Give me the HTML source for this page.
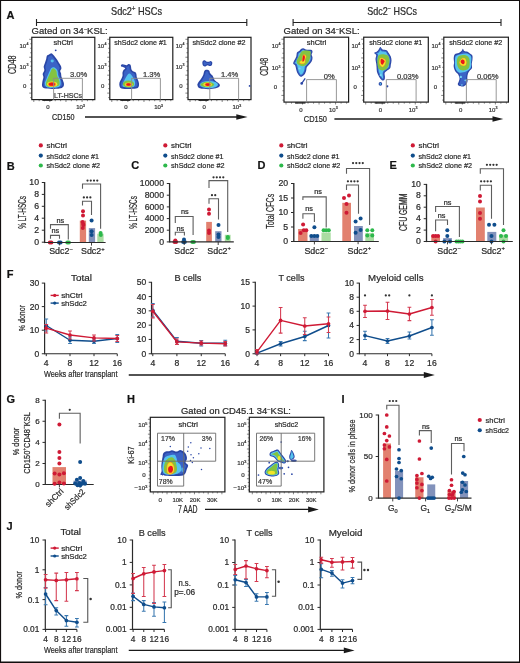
<!DOCTYPE html><html><head><meta charset="utf-8"><style>html,body{margin:0;padding:0;background:#fff;}svg{display:block;will-change:transform;}text{font-family:"Liberation Sans", sans-serif;stroke:#2a2a2a;stroke-width:0.22px;}</style></head><body>
<svg width="520" height="663" viewBox="0 0 520 663">
<defs><filter id="bl" x="-20%" y="-20%" width="140%" height="140%"><feGaussianBlur stdDeviation="0.7"/></filter><filter id="bl2" x="-20%" y="-20%" width="140%" height="140%"><feGaussianBlur stdDeviation="0.4"/></filter></defs>
<rect x="0" y="0" width="520" height="663" fill="#fff"/>
<path d="M0,0H520V663H0Z M1.1,1V661.5H519V1Z" fill="#120e0e" fill-rule="evenodd"/>
<text x="6.60" y="18.80" font-size="11" fill="#111" font-weight="bold" >A</text>
<text x="6.80" y="169.60" font-size="11" fill="#111" font-weight="bold" >B</text>
<text x="131.20" y="169.40" font-size="11" fill="#111" font-weight="bold" >C</text>
<text x="257.40" y="169.00" font-size="11" fill="#111" font-weight="bold" >D</text>
<text x="389.60" y="169.20" font-size="11" fill="#111" font-weight="bold" >E</text>
<text x="6.80" y="278.20" font-size="11" fill="#111" font-weight="bold" >F</text>
<text x="6.60" y="402.60" font-size="11" fill="#111" font-weight="bold" >G</text>
<text x="127.00" y="402.70" font-size="11" fill="#111" font-weight="bold" >H</text>
<text x="341.50" y="402.50" font-size="11" fill="#111" font-weight="bold" >I</text>
<text x="6.60" y="529.50" font-size="11" fill="#111" font-weight="bold" >J</text>
<text x="111.00" y="14.80" font-size="9" fill="#2a2a2a" ></text>
<text x="111.0" y="14.9" font-size="10.4" fill="#2a2a2a" textLength="51" lengthAdjust="spacingAndGlyphs">Sdc2<tspan font-size="6.6" dy="-3.8">+</tspan><tspan dy="3.8"> HSCs</tspan></text>
<text x="367.2" y="14.9" font-size="10.4" fill="#2a2a2a" textLength="49.8" lengthAdjust="spacingAndGlyphs">Sdc2<tspan font-size="6.6" dy="-3.8">−</tspan><tspan dy="3.8"> HSCs</tspan></text>
<path d="M36.5,22.5H246.8M36.5,19V26M246.8,19V26" stroke="#222" stroke-width="1.1" fill="none" />
<path d="M293.1,22.5H501M293.1,19V26M501,19V26" stroke="#222" stroke-width="1.1" fill="none" />
<text x="31.6" y="34.0" font-size="9.5" fill="#2a2a2a">Gated on 34<tspan font-size="5.5" dy="-3.2">−</tspan><tspan dy="3.2">KSL:</tspan></text>
<text x="283.5" y="34.0" font-size="9.5" fill="#2a2a2a">Gated on 34<tspan font-size="5.5" dy="-3.2">−</tspan><tspan dy="3.2">KSL:</tspan></text>
<rect x="31.80" y="37.30" width="63.00" height="62.30" fill="none" stroke="#1e1e1e" stroke-width="1.2" />
<path d="M29.20,39.30H31.80M30.20,43.78H31.80M30.20,48.27H31.80M30.20,52.75H31.80M29.20,57.24H31.80M30.20,61.72H31.80M30.20,66.21H31.80M30.20,70.69H31.80M29.20,75.18H31.80M30.20,79.66H31.80M30.20,84.15H31.80M30.20,88.63H31.80M29.20,93.12H31.80M30.20,97.60H31.80M33.80,99.60V102.00M39.16,99.60V101.20M44.53,99.60V101.20M49.89,99.60V102.00M55.25,99.60V101.20M60.62,99.60V101.20M65.98,99.60V102.00M71.35,99.60V101.20M76.71,99.60V101.20M82.07,99.60V102.00M87.44,99.60V101.20M92.80,99.60V101.20" stroke="#333" stroke-width="0.6" fill="none" />
<text x="26.20" y="47.90" font-size="6" fill="#444" text-anchor="end" >10</text>
<text x="26.40" y="45.40" font-size="3.6" fill="#444" >4</text>
<text x="26.20" y="68.50" font-size="6" fill="#444" text-anchor="end" >10</text>
<text x="26.40" y="66.00" font-size="3.6" fill="#444" >3</text>
<text x="26.40" y="87.70" font-size="6" fill="#444" text-anchor="end" >0</text>
<text x="48.00" y="109.40" font-size="6" fill="#444" text-anchor="middle" >0</text>
<text x="79.60" y="109.40" font-size="6" fill="#444" text-anchor="middle" >10</text>
<text x="83.10" y="106.80" font-size="3.6" fill="#444" >3</text>
<text x="53.50" y="44.90" font-size="7.7" fill="#2a2a2a" textLength="19.50" lengthAdjust="spacingAndGlyphs" >shCtrl</text>
<text x="70.00" y="76.90" font-size="7.6" fill="#444" >3.0%</text>
<rect x="109.80" y="37.30" width="63.00" height="62.30" fill="none" stroke="#1e1e1e" stroke-width="1.2" />
<path d="M107.20,39.30H109.80M108.20,43.78H109.80M108.20,48.27H109.80M108.20,52.75H109.80M107.20,57.24H109.80M108.20,61.72H109.80M108.20,66.21H109.80M108.20,70.69H109.80M107.20,75.18H109.80M108.20,79.66H109.80M108.20,84.15H109.80M108.20,88.63H109.80M107.20,93.12H109.80M108.20,97.60H109.80M111.80,99.60V102.00M117.16,99.60V101.20M122.53,99.60V101.20M127.89,99.60V102.00M133.25,99.60V101.20M138.62,99.60V101.20M143.98,99.60V102.00M149.35,99.60V101.20M154.71,99.60V101.20M160.07,99.60V102.00M165.44,99.60V101.20M170.80,99.60V101.20" stroke="#333" stroke-width="0.6" fill="none" />
<text x="104.20" y="47.90" font-size="6" fill="#444" text-anchor="end" >10</text>
<text x="104.40" y="45.40" font-size="3.6" fill="#444" >4</text>
<text x="104.20" y="68.50" font-size="6" fill="#444" text-anchor="end" >10</text>
<text x="104.40" y="66.00" font-size="3.6" fill="#444" >3</text>
<text x="104.40" y="87.70" font-size="6" fill="#444" text-anchor="end" >0</text>
<text x="126.00" y="109.40" font-size="6" fill="#444" text-anchor="middle" >0</text>
<text x="157.60" y="109.40" font-size="6" fill="#444" text-anchor="middle" >10</text>
<text x="161.10" y="106.80" font-size="3.6" fill="#444" >3</text>
<text x="114.30" y="44.90" font-size="7.7" fill="#2a2a2a" textLength="52.50" lengthAdjust="spacingAndGlyphs" >shSdc2 clone #1</text>
<text x="143.00" y="76.90" font-size="7.6" fill="#444" >1.3%</text>
<rect x="188.00" y="37.30" width="63.00" height="62.30" fill="none" stroke="#1e1e1e" stroke-width="1.2" />
<path d="M185.40,39.30H188.00M186.40,43.78H188.00M186.40,48.27H188.00M186.40,52.75H188.00M185.40,57.24H188.00M186.40,61.72H188.00M186.40,66.21H188.00M186.40,70.69H188.00M185.40,75.18H188.00M186.40,79.66H188.00M186.40,84.15H188.00M186.40,88.63H188.00M185.40,93.12H188.00M186.40,97.60H188.00M190.00,99.60V102.00M195.36,99.60V101.20M200.73,99.60V101.20M206.09,99.60V102.00M211.45,99.60V101.20M216.82,99.60V101.20M222.18,99.60V102.00M227.55,99.60V101.20M232.91,99.60V101.20M238.27,99.60V102.00M243.64,99.60V101.20M249.00,99.60V101.20" stroke="#333" stroke-width="0.6" fill="none" />
<text x="182.40" y="47.90" font-size="6" fill="#444" text-anchor="end" >10</text>
<text x="182.60" y="45.40" font-size="3.6" fill="#444" >4</text>
<text x="182.40" y="68.50" font-size="6" fill="#444" text-anchor="end" >10</text>
<text x="182.60" y="66.00" font-size="3.6" fill="#444" >3</text>
<text x="182.60" y="87.70" font-size="6" fill="#444" text-anchor="end" >0</text>
<text x="204.20" y="109.40" font-size="6" fill="#444" text-anchor="middle" >0</text>
<text x="235.80" y="109.40" font-size="6" fill="#444" text-anchor="middle" >10</text>
<text x="239.30" y="106.80" font-size="3.6" fill="#444" >3</text>
<text x="192.40" y="44.90" font-size="7.7" fill="#2a2a2a" textLength="53.20" lengthAdjust="spacingAndGlyphs" >shSdc2 clone #2</text>
<text x="221.00" y="76.90" font-size="7.6" fill="#444" >1.4%</text>
<text x="54.00" y="97.60" font-size="6.9" fill="#444" textLength="28.00" lengthAdjust="spacingAndGlyphs" >LT-HSCs</text>
<g filter="url(#bl2)">
<path d="M51.30,53.20 C51.98,53.25 52.57,54.07 53.20,54.70 C53.83,55.33 54.47,56.20 55.10,57.00 C55.73,57.80 56.37,58.55 57.00,59.50 C57.63,60.45 58.27,61.65 58.90,62.70 C59.53,63.75 60.38,64.85 60.80,65.80 C61.22,66.75 61.50,67.55 61.40,68.40 C61.30,69.25 60.25,70.07 60.20,70.90 C60.15,71.73 60.90,72.45 61.10,73.40 C61.30,74.35 61.13,75.55 61.40,76.60 C61.67,77.65 62.28,78.55 62.70,79.70 C63.12,80.85 63.80,82.33 63.90,83.50 C64.00,84.67 64.03,85.85 63.30,86.70 C62.57,87.55 61.40,88.23 59.50,88.60 C57.60,88.97 54.43,88.95 51.90,88.90 C49.37,88.85 45.93,88.77 44.30,88.30 C42.67,87.83 42.42,87.22 42.10,86.10 C41.78,84.98 42.18,83.08 42.40,81.60 C42.62,80.12 43.35,78.47 43.40,77.20 C43.45,75.93 42.55,75.15 42.70,74.00 C42.85,72.85 44.13,71.55 44.30,70.30 C44.47,69.05 43.58,67.77 43.70,66.50 C43.82,65.23 44.58,63.97 45.00,62.70 C45.42,61.43 45.88,60.07 46.20,58.90 C46.52,57.73 46.42,56.45 46.90,55.70 C47.38,54.95 48.37,54.82 49.10,54.40 C49.83,53.98 50.62,53.15 51.30,53.20Z" stroke="none" stroke-width="1.0" fill="#2a46a6" />
<path d="M51.16,54.89 C51.50,54.90 51.58,55.39 52.01,55.92 C52.45,56.44 53.17,57.30 53.77,58.06 C54.36,58.81 54.98,59.53 55.59,60.45 C56.20,61.37 56.84,62.58 57.44,63.58 C58.05,64.58 58.85,65.67 59.23,66.44 C59.60,67.22 59.83,67.48 59.71,68.21 C59.59,68.94 58.55,69.89 58.50,70.81 C58.46,71.74 59.23,72.74 59.44,73.77 C59.65,74.80 59.47,75.93 59.75,77.01 C60.03,78.10 60.70,79.19 61.10,80.29 C61.51,81.38 62.06,82.70 62.20,83.60 C62.34,84.50 62.46,85.12 61.94,85.68 C61.42,86.23 60.75,86.70 59.08,86.95 C57.41,87.21 54.28,87.23 51.93,87.20 C49.59,87.17 46.39,87.04 45.01,86.76 C43.64,86.47 43.85,86.32 43.69,85.50 C43.54,84.68 43.85,83.23 44.08,81.85 C44.32,80.46 45.05,78.49 45.10,77.21 C45.15,75.93 44.24,75.28 44.39,74.16 C44.54,73.05 45.82,71.77 45.99,70.51 C46.15,69.26 45.29,67.86 45.39,66.65 C45.50,65.43 46.21,64.45 46.61,63.23 C47.02,62.01 47.57,60.43 47.84,59.34 C48.12,58.25 47.93,57.27 48.28,56.70 C48.63,56.12 49.46,56.18 49.94,55.88 C50.42,55.58 50.81,54.89 51.16,54.89Z" stroke="none" stroke-width="1.0" fill="#3b63c6" />
<ellipse cx="52.20" cy="61.00" rx="1.60" ry="1.40" fill="#55c3ee"/>
<path d="M54.05,67.33 C55.08,67.70 56.71,69.12 57.38,70.40 C58.05,71.68 57.74,73.73 58.06,75.02 C58.39,76.30 58.90,77.02 59.32,78.09 C59.74,79.17 60.53,80.14 60.59,81.48 C60.66,82.83 60.92,85.10 59.70,86.15 C58.49,87.20 55.43,87.60 53.29,87.80 C51.16,87.99 48.33,88.03 46.92,87.33 C45.50,86.63 44.88,85.02 44.80,83.59 C44.73,82.15 45.93,80.15 46.48,78.70 C47.02,77.25 47.55,76.15 48.09,74.87 C48.62,73.60 49.18,72.17 49.70,71.05 C50.21,69.93 50.45,68.79 51.18,68.17 C51.90,67.55 53.02,66.96 54.05,67.33Z" stroke="none" stroke-width="1.0" fill="#55c3ee" />
<path d="M53.80,68.40 C54.55,68.72 55.87,69.75 56.40,70.90 C56.93,72.05 56.68,74.03 57.00,75.30 C57.32,76.57 57.88,77.45 58.30,78.50 C58.72,79.55 59.40,80.45 59.50,81.60 C59.60,82.75 59.95,84.55 58.90,85.40 C57.85,86.25 55.10,86.53 53.20,86.70 C51.30,86.87 48.72,86.93 47.50,86.40 C46.28,85.87 45.90,84.72 45.90,83.50 C45.90,82.28 46.97,80.47 47.50,79.10 C48.03,77.73 48.57,76.57 49.10,75.30 C49.63,74.03 50.23,72.55 50.70,71.50 C51.17,70.45 51.38,69.52 51.90,69.00 C52.42,68.48 53.05,68.08 53.80,68.40Z" stroke="none" stroke-width="1.0" fill="#84c341" />
<ellipse cx="52.20" cy="84.20" rx="5.10" ry="2.80" fill="#f2e52a"/>
<ellipse cx="52.00" cy="84.20" rx="4.00" ry="2.20" fill="#f7931e"/>
<ellipse cx="51.90" cy="84.20" rx="3.00" ry="1.60" fill="#e8151f"/>
</g>
<circle cx="55.70" cy="50.30" r="0.9" fill="#2a46a6"/>
<g filter="url(#bl2)">
<path d="M121.00,65.00 C121.21,64.62 121.88,64.29 122.50,64.25 C123.12,64.21 124.04,64.58 124.75,64.75 C125.46,64.92 126.12,65.38 126.75,65.25 C127.38,65.12 127.92,64.12 128.50,64.00 C129.08,63.88 129.83,64.08 130.25,64.50 C130.67,64.92 130.79,65.67 131.00,66.50 C131.21,67.33 131.17,68.71 131.50,69.50 C131.83,70.29 132.33,70.79 133.00,71.25 C133.67,71.71 134.92,71.71 135.50,72.25 C136.08,72.79 136.29,73.71 136.50,74.50 C136.71,75.29 136.50,76.08 136.75,77.00 C137.00,77.92 137.62,78.92 138.00,80.00 C138.38,81.08 138.92,82.33 139.00,83.50 C139.08,84.67 139.00,86.17 138.50,87.00 C138.00,87.83 137.67,88.17 136.00,88.50 C134.33,88.83 130.92,89.00 128.50,89.00 C126.08,89.00 123.00,89.00 121.50,88.50 C120.00,88.00 119.83,87.00 119.50,86.00 C119.17,85.00 119.25,83.58 119.50,82.50 C119.75,81.42 120.50,80.58 121.00,79.50 C121.50,78.42 122.25,77.17 122.50,76.00 C122.75,74.83 122.33,73.50 122.50,72.50 C122.67,71.50 123.04,70.67 123.50,70.00 C123.96,69.33 125.25,68.96 125.25,68.50 C125.25,68.04 124.17,67.58 123.50,67.25 C122.83,66.92 121.67,66.88 121.25,66.50 C120.83,66.12 120.79,65.38 121.00,65.00Z" stroke="none" stroke-width="1.0" fill="#2a46a6" />
<path d="M122.43,65.73 C122.46,65.79 122.37,65.74 122.70,65.84 C123.02,65.93 123.66,66.14 124.38,66.31 C125.11,66.47 126.32,66.94 127.05,66.82 C127.78,66.70 128.42,65.77 128.77,65.58 C129.12,65.39 129.05,65.45 129.17,65.68 C129.28,65.90 129.31,66.16 129.45,66.91 C129.60,67.66 129.61,69.24 130.05,70.18 C130.49,71.12 131.35,72.01 132.07,72.55 C132.79,73.09 133.91,73.01 134.39,73.40 C134.87,73.80 134.82,74.24 134.95,74.91 C135.09,75.57 134.94,76.46 135.20,77.39 C135.45,78.33 136.12,79.49 136.49,80.53 C136.86,81.56 137.29,82.68 137.40,83.61 C137.52,84.54 137.48,85.55 137.17,86.11 C136.85,86.68 136.97,86.76 135.52,86.97 C134.08,87.19 130.72,87.38 128.50,87.40 C126.29,87.42 123.49,87.41 122.24,87.08 C121.00,86.76 121.21,86.17 121.01,85.47 C120.81,84.77 120.82,83.75 121.06,82.87 C121.30,81.98 121.95,81.26 122.45,80.17 C122.95,79.08 123.80,77.55 124.07,76.32 C124.34,75.09 123.95,73.70 124.07,72.80 C124.19,71.90 124.34,71.66 124.80,70.93 C125.26,70.20 126.94,69.28 126.85,68.43 C126.75,67.58 124.96,66.32 124.23,65.82 C123.50,65.33 122.77,65.48 122.47,65.46 C122.17,65.44 122.39,65.66 122.43,65.73Z" stroke="none" stroke-width="1.0" fill="#3b63c6" />
<path d="M129.00,73.50 C130.25,73.08 131.50,75.08 132.50,76.50 C133.50,77.92 134.75,80.33 135.00,82.00 C135.25,83.67 135.08,85.62 134.00,86.50 C132.92,87.38 130.33,87.30 128.50,87.30 C126.67,87.30 123.92,87.13 123.00,86.50 C122.08,85.87 122.67,84.75 123.00,83.50 C123.33,82.25 124.00,80.67 125.00,79.00 C126.00,77.33 127.75,73.92 129.00,73.50Z" stroke="none" stroke-width="1.0" fill="#55c3ee" />
<ellipse cx="128.50" cy="84.00" rx="5.75" ry="3.50" fill="#84c341"/>
<ellipse cx="128.75" cy="84.50" rx="3.80" ry="2.00" fill="#f2e52a"/>
<ellipse cx="128.60" cy="84.50" rx="3.00" ry="1.65" fill="#f7931e"/>
<ellipse cx="128.50" cy="84.50" rx="2.20" ry="1.30" fill="#e8151f"/>
</g>
<g filter="url(#bl2)">
<path d="M202.70,61.20 C203.08,60.67 204.08,60.25 204.70,60.30 C205.32,60.35 205.78,61.25 206.40,61.50 C207.02,61.75 207.68,61.90 208.40,61.80 C209.12,61.70 210.07,60.82 210.70,60.90 C211.33,60.98 212.00,61.63 212.20,62.30 C212.40,62.97 212.28,64.27 211.90,64.90 C211.52,65.53 210.62,66.05 209.90,66.10 C209.18,66.15 208.37,65.15 207.60,65.20 C206.83,65.25 206.03,66.30 205.30,66.40 C204.57,66.50 203.68,66.28 203.20,65.80 C202.72,65.32 202.48,64.27 202.40,63.50 C202.32,62.73 202.32,61.73 202.70,61.20Z" stroke="none" stroke-width="1.0" fill="#2a46a6" />
<path d="M203.66,61.92 C203.83,61.60 204.20,61.38 204.59,61.49 C204.97,61.61 205.29,62.36 205.95,62.61 C206.61,62.86 207.78,63.08 208.53,62.99 C209.29,62.90 210.05,62.13 210.47,62.08 C210.90,62.03 211.00,62.35 211.07,62.71 C211.14,63.08 211.10,63.88 210.89,64.25 C210.68,64.61 210.36,64.95 209.80,64.90 C209.24,64.86 208.31,63.95 207.54,64.00 C206.77,64.05 205.76,65.05 205.18,65.21 C204.59,65.36 204.29,65.23 204.02,64.93 C203.76,64.62 203.65,63.88 203.59,63.38 C203.53,62.88 203.50,62.23 203.66,61.92Z" stroke="none" stroke-width="1.0" fill="#3b63c6" />
<path d="M207.30,69.80 C207.97,69.90 208.82,70.12 209.30,70.70 C209.78,71.28 209.67,72.48 210.20,73.30 C210.73,74.12 211.88,74.73 212.50,75.60 C213.12,76.47 213.52,77.73 213.90,78.50 C214.28,79.27 214.17,79.53 214.80,80.20 C215.43,80.87 216.88,81.77 217.70,82.50 C218.52,83.23 219.42,83.92 219.70,84.60 C219.98,85.28 220.03,85.98 219.40,86.60 C218.77,87.22 217.73,87.87 215.90,88.30 C214.07,88.73 211.08,89.20 208.40,89.20 C205.72,89.20 201.62,88.93 199.80,88.30 C197.98,87.67 197.80,86.27 197.50,85.40 C197.20,84.53 197.43,84.15 198.00,83.10 C198.57,82.05 200.03,80.45 200.90,79.10 C201.77,77.75 202.67,76.25 203.20,75.00 C203.73,73.75 203.75,72.42 204.10,71.60 C204.45,70.78 204.77,70.40 205.30,70.10 C205.83,69.80 206.63,69.70 207.30,69.80Z" stroke="none" stroke-width="1.0" fill="#2a46a6" />
<path d="M207.08,71.39 C207.42,71.43 207.83,71.32 208.12,71.78 C208.41,72.24 208.33,73.36 208.84,74.15 C209.36,74.94 210.59,75.68 211.20,76.53 C211.80,77.37 212.08,78.44 212.47,79.22 C212.87,80.00 212.88,80.48 213.57,81.22 C214.26,81.97 215.85,83.04 216.62,83.68 C217.39,84.32 217.93,84.75 218.17,85.08 C218.42,85.41 218.56,85.37 218.11,85.65 C217.66,85.93 217.07,86.44 215.45,86.76 C213.83,87.09 210.87,87.58 208.39,87.60 C205.91,87.62 202.13,87.32 200.57,86.90 C199.02,86.47 199.24,85.56 199.06,85.04 C198.87,84.51 198.93,84.60 199.46,83.75 C199.99,82.91 201.38,81.32 202.25,79.96 C203.12,78.60 204.14,76.87 204.68,75.60 C205.23,74.33 205.29,73.01 205.53,72.32 C205.76,71.63 205.84,71.64 206.10,71.49 C206.36,71.33 206.74,71.34 207.08,71.39Z" stroke="none" stroke-width="1.0" fill="#3b63c6" />
<ellipse cx="209.00" cy="84.60" rx="9.00" ry="3.60" fill="#55c3ee"/>
<ellipse cx="207.30" cy="84.60" rx="6.90" ry="2.75" fill="#84c341"/>
<ellipse cx="207.60" cy="84.60" rx="4.20" ry="2.00" fill="#f2e52a"/>
<ellipse cx="207.80" cy="84.60" rx="3.20" ry="1.60" fill="#f7931e"/>
<ellipse cx="207.85" cy="84.60" rx="2.45" ry="1.30" fill="#e8151f"/>
</g>
<circle cx="249.60" cy="85.90" r="0.9" fill="#2a46a6"/>
<text x="52.00" y="120.00" font-size="8.7" fill="#2a2a2a" textLength="22.40" lengthAdjust="spacingAndGlyphs" >CD150</text>
<text x="16.20" y="64.65" font-size="10.4" fill="#2a2a2a" text-anchor="middle" textLength="18.70" lengthAdjust="spacingAndGlyphs" transform="rotate(-90 16.20 64.65)" >CD48</text>
<path d="M85,117H238" stroke="#1a1a1a" stroke-width="1.4" fill="none" />
<path d="M236.3,114.3L247.6,117L236.3,119.7Z" stroke="none" stroke-width="1.0" fill="#1a1a1a" />
<rect x="284.00" y="37.20" width="64.60" height="64.90" fill="none" stroke="#1e1e1e" stroke-width="1.2" />
<path d="M281.40,39.20H284.00M282.40,43.88H284.00M282.40,48.57H284.00M282.40,53.25H284.00M281.40,57.94H284.00M282.40,62.62H284.00M282.40,67.31H284.00M282.40,71.99H284.00M281.40,76.68H284.00M282.40,81.36H284.00M282.40,86.05H284.00M282.40,90.73H284.00M281.40,95.42H284.00M282.40,100.10H284.00M286.00,102.10V104.50M291.51,102.10V103.70M297.02,102.10V103.70M302.53,102.10V104.50M308.04,102.10V103.70M313.55,102.10V103.70M319.05,102.10V104.50M324.56,102.10V103.70M330.07,102.10V103.70M335.58,102.10V104.50M341.09,102.10V103.70M346.60,102.10V103.70" stroke="#333" stroke-width="0.6" fill="none" />
<text x="278.40" y="47.60" font-size="6" fill="#444" text-anchor="end" >10</text>
<text x="278.60" y="45.10" font-size="3.6" fill="#444" >4</text>
<text x="278.40" y="70.30" font-size="6" fill="#444" text-anchor="end" >10</text>
<text x="278.60" y="67.80" font-size="3.6" fill="#444" >3</text>
<text x="277.20" y="89.30" font-size="6" fill="#444" text-anchor="end" >0</text>
<text x="300.80" y="111.80" font-size="6" fill="#444" text-anchor="middle" >0</text>
<text x="332.30" y="111.80" font-size="6" fill="#444" text-anchor="middle" >10</text>
<text x="335.80" y="109.20" font-size="3.6" fill="#444" >3</text>
<text x="306.80" y="44.80" font-size="7.7" fill="#2a2a2a" textLength="19.50" lengthAdjust="spacingAndGlyphs" >shCtrl</text>
<text x="323.80" y="78.50" font-size="7.6" fill="#444" >0%</text>
<rect x="363.70" y="37.20" width="64.60" height="64.90" fill="none" stroke="#1e1e1e" stroke-width="1.2" />
<path d="M361.10,39.20H363.70M362.10,43.88H363.70M362.10,48.57H363.70M362.10,53.25H363.70M361.10,57.94H363.70M362.10,62.62H363.70M362.10,67.31H363.70M362.10,71.99H363.70M361.10,76.68H363.70M362.10,81.36H363.70M362.10,86.05H363.70M362.10,90.73H363.70M361.10,95.42H363.70M362.10,100.10H363.70M365.70,102.10V104.50M371.21,102.10V103.70M376.72,102.10V103.70M382.23,102.10V104.50M387.74,102.10V103.70M393.25,102.10V103.70M398.75,102.10V104.50M404.26,102.10V103.70M409.77,102.10V103.70M415.28,102.10V104.50M420.79,102.10V103.70M426.30,102.10V103.70" stroke="#333" stroke-width="0.6" fill="none" />
<text x="358.10" y="47.60" font-size="6" fill="#444" text-anchor="end" >10</text>
<text x="358.30" y="45.10" font-size="3.6" fill="#444" >4</text>
<text x="358.10" y="70.30" font-size="6" fill="#444" text-anchor="end" >10</text>
<text x="358.30" y="67.80" font-size="3.6" fill="#444" >3</text>
<text x="356.90" y="89.30" font-size="6" fill="#444" text-anchor="end" >0</text>
<text x="380.50" y="111.80" font-size="6" fill="#444" text-anchor="middle" >0</text>
<text x="412.00" y="111.80" font-size="6" fill="#444" text-anchor="middle" >10</text>
<text x="415.50" y="109.20" font-size="3.6" fill="#444" >3</text>
<text x="369.20" y="44.80" font-size="7.7" fill="#2a2a2a" textLength="53.00" lengthAdjust="spacingAndGlyphs" >shSdc2 clone #1</text>
<text x="397.00" y="78.50" font-size="7.6" fill="#444" >0.03%</text>
<rect x="443.80" y="37.20" width="64.60" height="64.90" fill="none" stroke="#1e1e1e" stroke-width="1.2" />
<path d="M441.20,39.20H443.80M442.20,43.88H443.80M442.20,48.57H443.80M442.20,53.25H443.80M441.20,57.94H443.80M442.20,62.62H443.80M442.20,67.31H443.80M442.20,71.99H443.80M441.20,76.68H443.80M442.20,81.36H443.80M442.20,86.05H443.80M442.20,90.73H443.80M441.20,95.42H443.80M442.20,100.10H443.80M445.80,102.10V104.50M451.31,102.10V103.70M456.82,102.10V103.70M462.33,102.10V104.50M467.84,102.10V103.70M473.35,102.10V103.70M478.85,102.10V104.50M484.36,102.10V103.70M489.87,102.10V103.70M495.38,102.10V104.50M500.89,102.10V103.70M506.40,102.10V103.70" stroke="#333" stroke-width="0.6" fill="none" />
<text x="438.20" y="47.60" font-size="6" fill="#444" text-anchor="end" >10</text>
<text x="438.40" y="45.10" font-size="3.6" fill="#444" >4</text>
<text x="438.20" y="70.30" font-size="6" fill="#444" text-anchor="end" >10</text>
<text x="438.40" y="67.80" font-size="3.6" fill="#444" >3</text>
<text x="437.00" y="89.30" font-size="6" fill="#444" text-anchor="end" >0</text>
<text x="460.60" y="111.80" font-size="6" fill="#444" text-anchor="middle" >0</text>
<text x="492.10" y="111.80" font-size="6" fill="#444" text-anchor="middle" >10</text>
<text x="495.60" y="109.20" font-size="3.6" fill="#444" >3</text>
<text x="449.20" y="44.80" font-size="7.7" fill="#2a2a2a" textLength="53.00" lengthAdjust="spacingAndGlyphs" >shSdc2 clone #2</text>
<text x="476.90" y="78.50" font-size="7.6" fill="#444" >0.06%</text>
<g filter="url(#bl2)">
<path d="M303.30,48.20 C304.05,48.30 305.05,49.13 305.90,49.40 C306.75,49.67 307.45,49.68 308.40,49.80 C309.35,49.92 310.92,49.73 311.60,50.10 C312.28,50.47 312.50,51.27 312.50,52.00 C312.50,52.73 311.60,53.55 311.60,54.50 C311.60,55.45 312.50,56.53 312.50,57.70 C312.50,58.87 312.18,60.33 311.60,61.50 C311.02,62.67 309.80,63.75 309.00,64.70 C308.20,65.65 307.27,66.25 306.80,67.20 C306.33,68.15 306.57,69.23 306.20,70.40 C305.83,71.57 305.30,73.20 304.60,74.20 C303.90,75.20 302.85,76.08 302.00,76.40 C301.15,76.72 300.33,76.78 299.50,76.10 C298.67,75.42 297.58,73.57 297.00,72.30 C296.42,71.03 296.32,69.67 296.00,68.50 C295.68,67.33 295.57,66.15 295.10,65.30 C294.63,64.45 293.32,64.25 293.20,63.40 C293.08,62.55 293.88,61.37 294.40,60.20 C294.92,59.03 295.87,57.67 296.30,56.40 C296.73,55.13 296.47,53.55 297.00,52.60 C297.53,51.65 298.77,51.33 299.50,50.70 C300.23,50.07 300.77,49.22 301.40,48.80 C302.03,48.38 302.55,48.10 303.30,48.20Z" stroke="none" stroke-width="1.0" fill="#2a46a6" />
<path d="M303.24,49.20 C303.85,49.31 304.77,50.09 305.61,50.36 C306.45,50.62 307.37,50.70 308.27,50.79 C309.18,50.89 310.49,50.71 311.03,50.92 C311.56,51.13 311.57,51.46 311.50,52.05 C311.43,52.64 310.60,53.52 310.60,54.46 C310.60,55.41 311.48,56.62 311.50,57.72 C311.52,58.82 311.25,60.00 310.70,61.06 C310.16,62.11 309.04,63.10 308.24,64.05 C307.44,65.00 306.40,65.75 305.90,66.76 C305.40,67.77 305.59,68.97 305.24,70.11 C304.89,71.25 304.38,72.72 303.79,73.61 C303.21,74.50 302.34,75.17 301.71,75.44 C301.08,75.72 300.66,75.84 300.03,75.25 C299.39,74.66 298.42,73.06 297.91,71.89 C297.40,70.72 297.29,69.42 296.96,68.24 C296.64,67.05 296.43,65.64 295.96,64.79 C295.50,63.95 294.29,63.89 294.18,63.19 C294.07,62.49 294.80,61.68 295.32,60.60 C295.83,59.52 296.83,57.96 297.25,56.72 C297.67,55.47 297.37,54.00 297.85,53.12 C298.34,52.25 299.48,52.03 300.16,51.45 C300.84,50.88 301.41,50.03 301.92,49.65 C302.43,49.28 302.62,49.08 303.24,49.20Z" stroke="none" stroke-width="1.0" fill="#3b63c6" />
<path d="M303.18,50.10 C303.67,50.23 304.52,50.95 305.35,51.22 C306.18,51.48 307.30,51.61 308.16,51.68 C309.02,51.76 310.10,51.59 310.51,51.66 C310.92,51.72 310.74,51.63 310.60,52.09 C310.47,52.55 309.70,53.49 309.70,54.43 C309.70,55.37 310.57,56.70 310.60,57.74 C310.63,58.78 310.40,59.71 309.90,60.66 C309.39,61.62 308.35,62.52 307.55,63.47 C306.75,64.42 305.62,65.30 305.09,66.37 C304.56,67.43 304.72,68.74 304.38,69.85 C304.04,70.97 303.56,72.29 303.07,73.08 C302.58,73.86 301.88,74.35 301.45,74.58 C301.03,74.81 300.95,74.99 300.50,74.48 C300.05,73.98 299.18,72.61 298.74,71.53 C298.29,70.45 298.17,69.20 297.83,68.00 C297.50,66.80 297.20,65.17 296.74,64.34 C296.28,63.51 295.16,63.56 295.06,63.00 C294.96,62.43 295.63,61.96 296.14,60.96 C296.65,59.96 297.69,58.23 298.10,57.00 C298.51,55.78 298.18,54.41 298.62,53.60 C299.06,52.78 300.12,52.66 300.75,52.13 C301.38,51.60 301.98,50.76 302.39,50.42 C302.79,50.08 302.69,49.96 303.18,50.10Z" stroke="none" stroke-width="1.0" fill="#55c3ee" />
<path d="M302.56,51.03 C304.34,50.27 308.55,50.49 309.89,51.07 C311.23,51.65 310.70,52.96 310.60,54.51 C310.50,56.05 309.93,58.70 309.28,60.32 C308.63,61.94 307.79,63.24 306.70,64.22 C305.60,65.20 304.16,66.20 302.71,66.20 C301.26,66.20 298.99,65.09 297.98,64.21 C296.98,63.32 296.49,62.31 296.70,60.89 C296.91,59.46 298.27,57.29 299.24,55.65 C300.22,54.00 300.79,51.80 302.56,51.03Z" stroke="none" stroke-width="1.0" fill="#84c341" />
<path d="M303.95,54.20 C304.63,54.16 306.23,55.09 306.48,56.00 C306.74,56.91 305.72,58.49 305.49,59.66 C305.27,60.82 305.87,62.27 305.13,63.00 C304.38,63.72 302.01,64.14 301.02,63.99 C300.03,63.84 299.08,62.74 299.20,62.08 C299.32,61.42 301.21,61.01 301.74,60.04 C302.28,59.08 302.06,57.26 302.42,56.29 C302.79,55.31 303.27,54.25 303.95,54.20Z" stroke="none" stroke-width="1.0" fill="#f7931e" />
<path d="M304.03,54.70 C304.56,54.65 305.85,55.35 306.01,56.17 C306.17,56.98 305.21,58.48 305.00,59.56 C304.79,60.65 305.39,62.01 304.75,62.67 C304.11,63.33 302.00,63.60 301.15,63.51 C300.31,63.42 299.53,62.65 299.70,62.11 C299.87,61.58 301.64,61.24 302.17,60.30 C302.70,59.37 302.57,57.41 302.88,56.48 C303.20,55.54 303.51,54.75 304.03,54.70Z" stroke="none" stroke-width="1.0" fill="#f2e52a" />
<path d="M304.00,55.10 C304.32,55.20 304.85,56.15 304.90,57.00 C304.95,57.85 304.67,59.40 304.30,60.20 C303.93,61.00 303.02,61.90 302.70,61.80 C302.38,61.70 302.35,60.50 302.40,59.60 C302.45,58.70 302.73,57.15 303.00,56.40 C303.27,55.65 303.68,55.00 304.00,55.10Z" stroke="none" stroke-width="1.0" fill="#e8151f" />
<ellipse cx="299.50" cy="68.50" rx="1.20" ry="1.00" fill="#7ad7f5"/>
</g>
<path d="M305.2,78.3L302.0,83.0" stroke="#2a46a6" stroke-width="1.3" fill="none" />
<circle cx="301.70" cy="83.40" r="1.3" fill="#2a46a6"/>
<g filter="url(#bl2)">
<path d="M380.40,47.10 C380.98,47.20 381.47,48.98 382.50,49.50 C383.53,50.02 385.57,49.62 386.60,50.20 C387.63,50.78 388.00,51.95 388.70,53.00 C389.40,54.05 390.33,55.23 390.80,56.50 C391.27,57.77 391.50,59.22 391.50,60.60 C391.50,61.98 391.03,63.52 390.80,64.80 C390.57,66.08 390.80,67.27 390.10,68.30 C389.40,69.33 387.52,70.20 386.60,71.00 C385.68,71.80 384.88,72.17 384.60,73.10 C384.32,74.03 384.90,75.55 384.90,76.60 C384.90,77.65 385.00,78.77 384.60,79.40 C384.20,80.03 383.20,80.52 382.50,80.40 C381.80,80.28 381.03,79.45 380.40,78.70 C379.77,77.95 379.28,77.07 378.70,75.90 C378.12,74.73 377.25,73.08 376.90,71.70 C376.55,70.32 376.72,68.98 376.60,67.60 C376.48,66.22 376.38,64.78 376.20,63.40 C376.02,62.02 375.50,60.68 375.50,59.30 C375.50,57.92 376.42,56.15 376.20,55.10 C375.98,54.05 374.08,53.58 374.20,53.00 C374.32,52.42 376.10,52.28 376.90,51.60 C377.70,50.92 378.42,49.65 379.00,48.90 C379.58,48.15 379.82,47.00 380.40,47.10Z" stroke="none" stroke-width="1.0" fill="#2a46a6" />
<path d="M380.43,48.10 C380.80,48.24 381.07,49.88 382.01,50.37 C382.95,50.86 385.10,50.52 386.08,51.05 C387.06,51.58 387.24,52.59 387.87,53.56 C388.50,54.52 389.42,55.67 389.86,56.85 C390.30,58.02 390.51,59.31 390.50,60.60 C390.49,61.90 390.02,63.42 389.82,64.62 C389.61,65.81 389.90,66.83 389.25,67.77 C388.60,68.71 386.86,69.42 385.93,70.26 C385.00,71.09 383.99,71.71 383.66,72.77 C383.32,73.82 383.88,75.58 383.90,76.59 C383.92,77.60 384.00,78.35 383.78,78.82 C383.57,79.29 383.06,79.54 382.62,79.41 C382.18,79.28 381.66,78.70 381.15,78.04 C380.65,77.38 380.14,76.54 379.59,75.44 C379.04,74.35 378.20,72.78 377.87,71.46 C377.54,70.14 377.71,68.88 377.60,67.52 C377.48,66.15 377.37,64.64 377.19,63.27 C377.01,61.90 376.51,60.71 376.50,59.30 C376.49,57.89 377.37,55.83 377.16,54.81 C376.94,53.78 375.12,53.57 375.19,53.16 C375.25,52.76 376.77,52.98 377.54,52.37 C378.31,51.76 379.31,50.23 379.79,49.51 C380.27,48.80 380.06,47.96 380.43,48.10Z" stroke="none" stroke-width="1.0" fill="#3b63c6" />
<path d="M380.45,49.00 C380.63,49.18 380.71,50.69 381.57,51.16 C382.43,51.63 384.68,51.34 385.61,51.82 C386.54,52.31 386.56,53.17 387.12,54.06 C387.69,54.95 388.61,56.07 389.02,57.16 C389.43,58.25 389.61,59.39 389.60,60.60 C389.59,61.82 389.12,63.34 388.93,64.46 C388.75,65.57 389.09,66.44 388.49,67.30 C387.89,68.15 386.27,68.73 385.33,69.59 C384.38,70.45 383.20,71.31 382.81,72.47 C382.42,73.64 382.96,75.61 383.00,76.58 C383.04,77.55 383.10,77.98 383.05,78.30 C383.00,78.62 382.93,78.66 382.72,78.51 C382.52,78.37 382.22,78.03 381.83,77.45 C381.44,76.87 380.90,76.06 380.39,75.03 C379.88,74.00 379.06,72.52 378.75,71.25 C378.43,69.99 378.60,68.79 378.49,67.44 C378.38,66.09 378.27,64.51 378.08,63.15 C377.90,61.79 377.41,60.73 377.40,59.30 C377.39,57.86 378.24,55.54 378.02,54.54 C377.80,53.55 376.06,53.56 376.07,53.31 C376.09,53.07 377.38,53.60 378.12,53.06 C378.85,52.52 380.11,50.74 380.50,50.07 C380.89,49.39 380.28,48.82 380.45,49.00Z" stroke="none" stroke-width="1.0" fill="#55c3ee" />
<path d="M379.00,55.10 C380.17,54.28 383.10,54.28 384.60,54.40 C386.10,54.52 387.20,54.87 388.00,55.80 C388.80,56.73 389.28,58.50 389.40,60.00 C389.52,61.50 389.17,63.30 388.70,64.80 C388.23,66.30 387.63,68.07 386.60,69.00 C385.57,69.93 383.77,70.40 382.50,70.40 C381.23,70.40 379.82,69.93 379.00,69.00 C378.18,68.07 377.83,66.42 377.60,64.80 C377.37,63.18 377.37,60.92 377.60,59.30 C377.83,57.68 377.83,55.92 379.00,55.10Z" stroke="none" stroke-width="1.0" fill="#84c341" />
<path d="M381.00,57.51 C382.05,57.50 384.94,58.68 385.65,59.81 C386.36,60.93 385.79,63.01 385.27,64.26 C384.75,65.51 383.50,67.30 382.52,67.30 C381.53,67.30 379.86,65.49 379.33,64.25 C378.80,63.02 379.04,61.01 379.32,59.88 C379.59,58.76 379.94,57.53 381.00,57.51Z" stroke="none" stroke-width="1.0" fill="#f7931e" />
<path d="M381.10,57.90 C382.03,57.90 384.67,58.97 385.30,60.00 C385.93,61.03 385.37,62.95 384.90,64.10 C384.43,65.25 383.37,66.90 382.50,66.90 C381.63,66.90 380.17,65.25 379.70,64.10 C379.23,62.95 379.47,61.03 379.70,60.00 C379.93,58.97 380.17,57.90 381.10,57.90Z" stroke="none" stroke-width="1.0" fill="#f2e52a" />
<path d="M381.10,58.90 C381.75,58.62 384.20,60.25 384.60,61.00 C385.00,61.75 383.92,62.77 383.50,63.40 C383.08,64.03 382.57,64.92 382.10,64.80 C381.63,64.68 380.87,63.68 380.70,62.70 C380.53,61.72 380.45,59.18 381.10,58.90Z" stroke="none" stroke-width="1.0" fill="#e8151f" />
<ellipse cx="380.70" cy="75.20" rx="1.10" ry="1.10" fill="#7ad7f5"/>
</g>
<circle cx="380.40" cy="83.90" r="1.8" fill="#2a46a6"/>
<circle cx="380.40" cy="83.90" r="0.8" fill="#55c3ee"/>
<circle cx="387.30" cy="86.30" r="1.1" fill="#2a46a6"/>
<g filter="url(#bl2)">
<path d="M462.90,48.70 C463.35,48.70 463.42,50.58 464.20,51.10 C464.98,51.62 466.58,51.35 467.60,51.80 C468.62,52.25 469.50,53.13 470.30,53.80 C471.10,54.47 472.05,54.78 472.40,55.80 C472.75,56.82 472.52,58.53 472.40,59.90 C472.28,61.27 471.77,62.63 471.70,64.00 C471.63,65.37 472.33,66.97 472.00,68.10 C471.67,69.23 470.37,69.90 469.70,70.80 C469.03,71.70 468.40,72.38 468.00,73.50 C467.60,74.62 467.37,76.27 467.30,77.50 C467.23,78.73 467.77,79.77 467.60,80.90 C467.43,82.03 466.97,83.38 466.30,84.30 C465.63,85.22 464.73,86.12 463.60,86.40 C462.47,86.68 460.47,86.35 459.50,86.00 C458.53,85.65 457.92,85.03 457.80,84.30 C457.68,83.57 458.52,82.62 458.80,81.60 C459.08,80.58 459.62,79.43 459.50,78.20 C459.38,76.97 458.78,75.33 458.10,74.20 C457.42,73.07 456.13,72.65 455.40,71.40 C454.67,70.15 453.92,68.17 453.70,66.70 C453.48,65.23 454.10,63.95 454.10,62.60 C454.10,61.25 453.60,59.95 453.70,58.60 C453.80,57.25 453.85,55.42 454.70,54.50 C455.55,53.58 457.67,53.67 458.80,53.10 C459.93,52.53 460.82,51.83 461.50,51.10 C462.18,50.37 462.45,48.70 462.90,48.70Z" stroke="none" stroke-width="1.0" fill="#2a46a6" />
<path d="M462.88,49.90 C463.06,49.93 462.78,51.56 463.48,52.06 C464.19,52.56 466.10,52.45 467.11,52.90 C468.12,53.34 468.83,54.16 469.53,54.72 C470.23,55.28 471.02,55.43 471.30,56.27 C471.58,57.12 471.34,58.52 471.20,59.80 C471.07,61.08 470.56,62.62 470.50,63.94 C470.44,65.26 471.15,66.70 470.86,67.73 C470.56,68.75 469.40,69.20 468.73,70.09 C468.07,70.98 467.32,71.84 466.88,73.07 C466.44,74.30 466.18,76.17 466.10,77.45 C466.02,78.73 466.54,79.71 466.41,80.73 C466.28,81.76 465.86,82.83 465.34,83.59 C464.81,84.34 464.15,85.03 463.27,85.25 C462.38,85.47 460.73,85.12 460.01,84.91 C459.30,84.71 458.98,84.54 458.97,84.04 C458.96,83.55 459.67,82.92 459.95,81.93 C460.24,80.94 460.84,79.51 460.70,78.12 C460.56,76.73 459.83,74.80 459.12,73.57 C458.41,72.35 457.12,71.94 456.42,70.77 C455.71,69.60 455.08,67.91 454.89,66.55 C454.70,65.19 455.30,63.91 455.30,62.60 C455.30,61.29 454.85,59.90 454.90,58.68 C454.94,57.47 454.84,56.06 455.59,55.31 C456.33,54.56 458.22,54.73 459.36,54.16 C460.49,53.59 461.81,52.61 462.39,51.90 C462.98,51.19 462.70,49.87 462.88,49.90Z" stroke="none" stroke-width="1.0" fill="#3b63c6" />
<path d="M456.80,55.50 C458.63,54.42 463.63,53.33 466.00,53.50 C468.37,53.67 470.17,54.75 471.00,56.50 C471.83,58.25 471.08,62.08 471.00,64.00 C470.92,65.92 471.33,66.75 470.50,68.00 C469.67,69.25 467.92,70.75 466.00,71.50 C464.08,72.25 460.75,73.08 459.00,72.50 C457.25,71.92 456.17,70.08 455.50,68.00 C454.83,65.92 454.78,62.08 455.00,60.00 C455.22,57.92 454.97,56.58 456.80,55.50Z" stroke="none" stroke-width="1.0" fill="#55c3ee" />
<path d="M459.50,55.80 C460.85,55.35 464.02,54.85 465.60,55.20 C467.18,55.55 468.32,56.67 469.00,57.90 C469.68,59.13 469.70,61.02 469.70,62.60 C469.70,64.18 469.68,66.15 469.00,67.40 C468.32,68.65 466.97,69.65 465.60,70.10 C464.23,70.55 462.10,70.67 460.80,70.10 C459.50,69.53 458.47,68.17 457.80,66.70 C457.13,65.23 456.85,62.77 456.80,61.30 C456.75,59.83 457.05,58.82 457.50,57.90 C457.95,56.98 458.15,56.25 459.50,55.80Z" stroke="none" stroke-width="1.0" fill="#84c341" />
<path d="M462.01,58.25 C463.02,57.52 464.34,57.65 465.12,58.27 C465.90,58.89 466.63,60.76 466.70,61.98 C466.77,63.21 466.37,65.01 465.54,65.62 C464.71,66.24 462.81,66.16 461.74,65.66 C460.66,65.17 459.05,63.86 459.10,62.63 C459.15,61.39 461.01,58.97 462.01,58.25Z" stroke="none" stroke-width="1.0" fill="#f7931e" />
<path d="M462.20,58.60 C463.10,57.93 464.22,58.03 464.90,58.60 C465.58,59.17 466.23,60.88 466.30,62.00 C466.37,63.12 466.03,64.75 465.30,65.30 C464.57,65.85 462.87,65.75 461.90,65.30 C460.93,64.85 459.45,63.72 459.50,62.60 C459.55,61.48 461.30,59.27 462.20,58.60Z" stroke="none" stroke-width="1.0" fill="#f2e52a" />
<path d="M462.20,59.60 C462.77,59.48 463.80,59.73 464.20,60.30 C464.60,60.87 464.82,62.33 464.60,63.00 C464.38,63.67 463.53,64.37 462.90,64.30 C462.27,64.23 461.15,63.15 460.80,62.60 C460.45,62.05 460.57,61.50 460.80,61.00 C461.03,60.50 461.63,59.72 462.20,59.60Z" stroke="none" stroke-width="1.0" fill="#e8151f" />
<ellipse cx="460.80" cy="76.90" rx="1.20" ry="1.20" fill="#6fd0f2"/>
<ellipse cx="465.30" cy="80.30" rx="0.90" ry="0.90" fill="#6fd0f2"/>
<ellipse cx="461.90" cy="85.00" rx="0.80" ry="0.80" fill="#6fd0f2"/>
</g>
<text x="303.80" y="121.90" font-size="8.7" fill="#2a2a2a" textLength="23.20" lengthAdjust="spacingAndGlyphs" >CD150</text>
<text x="268.00" y="66.75" font-size="10.4" fill="#2a2a2a" text-anchor="middle" textLength="18.10" lengthAdjust="spacingAndGlyphs" transform="rotate(-90 268.00 66.75)" >CD48</text>
<path d="M334.4,119H494" stroke="#1a1a1a" stroke-width="1.4" fill="none" />
<path d="M492.5,116.2L503.3,119L492.5,121.8Z" stroke="none" stroke-width="1.0" fill="#1a1a1a" />
<path d="M53.60,99.60V78.30H82.40V99.60" stroke="#8c8c8c" stroke-width="0.9" fill="none" />
<path d="M131.60,99.60V78.30H160.40V99.60" stroke="#8c8c8c" stroke-width="0.9" fill="none" />
<path d="M209.80,99.60V78.30H238.60V99.60" stroke="#8c8c8c" stroke-width="0.9" fill="none" />
<path d="M306.60,102.10V79.60H336.40V102.10" stroke="#8c8c8c" stroke-width="0.9" fill="none" />
<path d="M386.30,102.10V79.60H416.10V102.10" stroke="#8c8c8c" stroke-width="0.9" fill="none" />
<path d="M466.40,102.10V79.60H496.20V102.10" stroke="#8c8c8c" stroke-width="0.9" fill="none" />
<rect x="42.30" y="99.60" width="10.00" height="1.30" fill="#222" stroke="none" stroke-width="1.0" />
<rect x="120.30" y="99.60" width="10.00" height="1.30" fill="#222" stroke="none" stroke-width="1.0" />
<rect x="198.50" y="99.60" width="10.00" height="1.30" fill="#222" stroke="none" stroke-width="1.0" />
<rect x="295.00" y="102.30" width="10.50" height="1.30" fill="#222" stroke="none" stroke-width="1.0" />
<rect x="374.70" y="102.30" width="10.50" height="1.30" fill="#222" stroke="none" stroke-width="1.0" />
<rect x="454.80" y="102.30" width="10.50" height="1.30" fill="#222" stroke="none" stroke-width="1.0" />
<circle cx="40.80" cy="145.40" r="2.1" fill="#cf1a35"/>
<text x="46.50" y="148.30" font-size="7.9" fill="#2a2a2a" >shCtrl</text>
<circle cx="40.80" cy="155.60" r="2.1" fill="#0f4d8c"/>
<text x="46.50" y="158.50" font-size="7.9" fill="#2a2a2a" textLength="52.50" lengthAdjust="spacingAndGlyphs" >shSdc2 clone #1</text>
<circle cx="40.80" cy="165.50" r="2.1" fill="#2db84b"/>
<text x="46.50" y="168.40" font-size="7.9" fill="#2a2a2a" textLength="53.50" lengthAdjust="spacingAndGlyphs" >shSdc2 clone #2</text>
<rect x="79.80" y="220.60" width="6.30" height="21.90" fill="#e2816f" stroke="none" stroke-width="1.0" />
<rect x="88.80" y="228.10" width="6.30" height="14.40" fill="#8292bb" stroke="none" stroke-width="1.0" />
<rect x="97.30" y="233.70" width="6.30" height="8.80" fill="#aadca2" stroke="none" stroke-width="1.0" />
<circle cx="83.00" cy="211.30" r="2.0" fill="#cf1a35"/>
<circle cx="83.00" cy="215.60" r="2.0" fill="#cf1a35"/>
<circle cx="82.60" cy="221.90" r="2.0" fill="#cf1a35"/>
<circle cx="83.40" cy="225.00" r="2.0" fill="#cf1a35"/>
<circle cx="82.80" cy="228.10" r="2.0" fill="#cf1a35"/>
<circle cx="83.20" cy="224.00" r="2.0" fill="#cf1a35"/>
<circle cx="91.60" cy="220.60" r="2.0" fill="#0f4d8c"/>
<circle cx="91.60" cy="231.20" r="2.0" fill="#0f4d8c"/>
<circle cx="91.60" cy="235.00" r="2.0" fill="#0f4d8c"/>
<circle cx="100.60" cy="233.10" r="2.0" fill="#2db84b"/>
<circle cx="100.80" cy="235.00" r="2.0" fill="#2db84b"/>
<circle cx="49.80" cy="242.50" r="2.0" fill="#cf1a35"/>
<circle cx="51.40" cy="242.50" r="2.0" fill="#cf1a35"/>
<circle cx="59.00" cy="242.50" r="2.0" fill="#0f4d8c"/>
<circle cx="60.60" cy="242.50" r="2.0" fill="#0f4d8c"/>
<circle cx="67.30" cy="242.50" r="2.0" fill="#2db84b"/>
<circle cx="68.90" cy="242.50" r="2.0" fill="#2db84b"/>
<line x1="44.60" y1="242.50" x2="105.60" y2="242.50" stroke="#2b2b2b" stroke-width="1.2" />
<line x1="44.60" y1="182.00" x2="44.60" y2="243.10" stroke="#2b2b2b" stroke-width="1.35" />
<line x1="41.80" y1="182.50" x2="44.60" y2="182.50" stroke="#2b2b2b" stroke-width="1.0" />
<text x="39.00" y="185.10" font-size="8.7" fill="#2a2a2a" text-anchor="end" >10</text>
<line x1="41.80" y1="194.40" x2="44.60" y2="194.40" stroke="#2b2b2b" stroke-width="1.0" />
<text x="39.00" y="197.00" font-size="8.7" fill="#2a2a2a" text-anchor="end" >8</text>
<line x1="41.80" y1="206.30" x2="44.60" y2="206.30" stroke="#2b2b2b" stroke-width="1.0" />
<text x="39.00" y="208.90" font-size="8.7" fill="#2a2a2a" text-anchor="end" >6</text>
<line x1="41.80" y1="218.20" x2="44.60" y2="218.20" stroke="#2b2b2b" stroke-width="1.0" />
<text x="39.00" y="220.80" font-size="8.7" fill="#2a2a2a" text-anchor="end" >4</text>
<line x1="41.80" y1="230.20" x2="44.60" y2="230.20" stroke="#2b2b2b" stroke-width="1.0" />
<text x="39.00" y="232.80" font-size="8.7" fill="#2a2a2a" text-anchor="end" >2</text>
<line x1="41.80" y1="242.20" x2="44.60" y2="242.20" stroke="#2b2b2b" stroke-width="1.0" />
<text x="39.00" y="244.80" font-size="8.7" fill="#2a2a2a" text-anchor="end" >0</text>
<line x1="59.60" y1="242.50" x2="59.60" y2="245.40" stroke="#2b2b2b" stroke-width="0.9" />
<line x1="91.50" y1="242.50" x2="91.50" y2="245.60" stroke="#2b2b2b" stroke-width="0.9" />
<path d="M50.50,238.80V235.40H59.50V238.80" stroke="#5e5e5e" stroke-width="1.1" fill="none" />
<text x="55.40" y="233.30" font-size="7.3" fill="#2a2a2a" text-anchor="middle" >ns</text>
<path d="M50.50,228.80V224.60H68.30V239.50" stroke="#5e5e5e" stroke-width="1.1" fill="none" />
<text x="60.40" y="222.60" font-size="7.3" fill="#2a2a2a" text-anchor="middle" >ns</text>
<path d="M82.50,205.60V201.30H91.50V215.00" stroke="#5e5e5e" stroke-width="1.1" fill="none" />
<circle cx="83.85" cy="197.40" r="1.12" fill="#333"/>
<circle cx="87.10" cy="197.40" r="1.12" fill="#333"/>
<circle cx="90.35" cy="197.40" r="1.12" fill="#333"/>
<path d="M82.50,188.80V184.00H100.60V228.80" stroke="#5e5e5e" stroke-width="1.1" fill="none" />
<circle cx="87.53" cy="180.60" r="1.12" fill="#333"/>
<circle cx="90.78" cy="180.60" r="1.12" fill="#333"/>
<circle cx="94.03" cy="180.60" r="1.12" fill="#333"/>
<circle cx="97.28" cy="180.60" r="1.12" fill="#333"/>
<text x="49.40" y="254.40" font-size="8" fill="#2a2a2a" ></text>
<text x="49.2" y="254.3" font-size="8.9" fill="#2a2a2a">Sdc2<tspan font-size="5.8" dy="-3.5">−</tspan></text>
<text x="81.0" y="254.3" font-size="8.9" fill="#2a2a2a">Sdc2<tspan font-size="5.8" dy="-3.5">+</tspan></text>
<text x="26.30" y="212.40" font-size="10.6" fill="#2a2a2a" text-anchor="middle" textLength="32.70" lengthAdjust="spacingAndGlyphs" transform="rotate(-90 26.30 212.40)" >% LT-HSCs</text>
<circle cx="165.30" cy="145.40" r="2.1" fill="#cf1a35"/>
<text x="171.00" y="148.30" font-size="7.9" fill="#2a2a2a" >shCtrl</text>
<circle cx="165.30" cy="155.60" r="2.1" fill="#0f4d8c"/>
<text x="171.00" y="158.50" font-size="7.9" fill="#2a2a2a" textLength="52.50" lengthAdjust="spacingAndGlyphs" >shSdc2 clone #1</text>
<circle cx="165.30" cy="165.50" r="2.1" fill="#2db84b"/>
<text x="171.00" y="168.40" font-size="7.9" fill="#2a2a2a" textLength="53.50" lengthAdjust="spacingAndGlyphs" >shSdc2 clone #2</text>
<rect x="206.20" y="221.90" width="5.70" height="20.00" fill="#e2816f" stroke="none" stroke-width="1.0" />
<rect x="215.20" y="231.20" width="6.30" height="10.70" fill="#8292bb" stroke="none" stroke-width="1.0" />
<rect x="224.80" y="234.80" width="5.80" height="7.10" fill="#aadca2" stroke="none" stroke-width="1.0" />
<circle cx="209.00" cy="209.40" r="2.0" fill="#cf1a35"/>
<circle cx="209.00" cy="213.80" r="2.0" fill="#cf1a35"/>
<circle cx="209.00" cy="230.60" r="2.0" fill="#cf1a35"/>
<circle cx="209.00" cy="233.10" r="2.0" fill="#cf1a35"/>
<circle cx="218.50" cy="225.00" r="2.0" fill="#0f4d8c"/>
<circle cx="218.50" cy="234.40" r="2.0" fill="#0f4d8c"/>
<circle cx="218.50" cy="236.90" r="2.0" fill="#0f4d8c"/>
<circle cx="227.80" cy="236.90" r="2.0" fill="#2db84b"/>
<circle cx="227.80" cy="238.10" r="2.0" fill="#2db84b"/>
<circle cx="174.50" cy="241.90" r="2.0" fill="#cf1a35"/>
<circle cx="176.10" cy="241.90" r="2.0" fill="#cf1a35"/>
<circle cx="183.20" cy="241.90" r="2.0" fill="#0f4d8c"/>
<circle cx="184.80" cy="241.90" r="2.0" fill="#0f4d8c"/>
<circle cx="192.30" cy="241.90" r="2.0" fill="#2db84b"/>
<circle cx="193.90" cy="241.90" r="2.0" fill="#2db84b"/>
<circle cx="175.30" cy="240.60" r="2.0" fill="#cf1a35"/>
<circle cx="184.00" cy="239.40" r="2.0" fill="#0f4d8c"/>
<line x1="169.60" y1="241.90" x2="233.80" y2="241.90" stroke="#2b2b2b" stroke-width="1.2" />
<line x1="169.60" y1="183.00" x2="169.60" y2="242.50" stroke="#2b2b2b" stroke-width="1.35" />
<line x1="166.80" y1="183.50" x2="169.60" y2="183.50" stroke="#2b2b2b" stroke-width="1.0" />
<text x="164.00" y="186.10" font-size="8.7" fill="#2a2a2a" text-anchor="end" >10000</text>
<line x1="166.80" y1="195.20" x2="169.60" y2="195.20" stroke="#2b2b2b" stroke-width="1.0" />
<text x="164.00" y="197.80" font-size="8.7" fill="#2a2a2a" text-anchor="end" >8000</text>
<line x1="166.80" y1="206.90" x2="169.60" y2="206.90" stroke="#2b2b2b" stroke-width="1.0" />
<text x="164.00" y="209.50" font-size="8.7" fill="#2a2a2a" text-anchor="end" >6000</text>
<line x1="166.80" y1="218.60" x2="169.60" y2="218.60" stroke="#2b2b2b" stroke-width="1.0" />
<text x="164.00" y="221.20" font-size="8.7" fill="#2a2a2a" text-anchor="end" >4000</text>
<line x1="166.80" y1="230.20" x2="169.60" y2="230.20" stroke="#2b2b2b" stroke-width="1.0" />
<text x="164.00" y="232.80" font-size="8.7" fill="#2a2a2a" text-anchor="end" >2000</text>
<line x1="166.80" y1="241.90" x2="169.60" y2="241.90" stroke="#2b2b2b" stroke-width="1.0" />
<text x="164.00" y="244.50" font-size="8.7" fill="#2a2a2a" text-anchor="end" >0</text>
<line x1="184.20" y1="241.90" x2="184.20" y2="245.00" stroke="#2b2b2b" stroke-width="0.9" />
<line x1="218.20" y1="241.90" x2="218.20" y2="245.00" stroke="#2b2b2b" stroke-width="0.9" />
<path d="M175.30,235.60V232.30H184.40V235.60" stroke="#5e5e5e" stroke-width="1.1" fill="none" />
<text x="180.30" y="230.60" font-size="7.3" fill="#2a2a2a" text-anchor="middle" >ns</text>
<path d="M175.30,223.10V216.50H193.10V235.00" stroke="#5e5e5e" stroke-width="1.1" fill="none" />
<text x="184.80" y="214.40" font-size="7.3" fill="#2a2a2a" text-anchor="middle" >ns</text>
<path d="M209.00,203.80V198.80H218.50V219.40" stroke="#5e5e5e" stroke-width="1.1" fill="none" />
<circle cx="211.97" cy="195.20" r="1.12" fill="#333"/>
<circle cx="215.22" cy="195.20" r="1.12" fill="#333"/>
<path d="M209.00,188.10V180.60H227.70V231.90" stroke="#5e5e5e" stroke-width="1.1" fill="none" />
<circle cx="213.53" cy="177.30" r="1.12" fill="#333"/>
<circle cx="216.78" cy="177.30" r="1.12" fill="#333"/>
<circle cx="220.03" cy="177.30" r="1.12" fill="#333"/>
<circle cx="223.28" cy="177.30" r="1.12" fill="#333"/>
<text x="174.3" y="253.8" font-size="8.9" fill="#2a2a2a">Sdc2<tspan font-size="5.8" dy="-3.5">−</tspan></text>
<text x="207.3" y="253.8" font-size="8.9" fill="#2a2a2a">Sdc2<tspan font-size="5.8" dy="-3.5">+</tspan></text>
<text x="137.20" y="212.50" font-size="10.6" fill="#2a2a2a" text-anchor="middle" textLength="32.70" lengthAdjust="spacingAndGlyphs" transform="rotate(-90 137.20 212.50)" >% LT-HSCs</text>
<circle cx="281.30" cy="145.40" r="2.1" fill="#cf1a35"/>
<text x="286.90" y="148.30" font-size="7.9" fill="#2a2a2a" >shCtrl</text>
<circle cx="281.30" cy="155.60" r="2.1" fill="#0f4d8c"/>
<text x="286.90" y="158.50" font-size="7.9" fill="#2a2a2a" textLength="52.50" lengthAdjust="spacingAndGlyphs" >shSdc2 clone #1</text>
<circle cx="281.30" cy="165.50" r="2.1" fill="#2db84b"/>
<text x="286.90" y="168.40" font-size="7.9" fill="#2a2a2a" textLength="53.50" lengthAdjust="spacingAndGlyphs" >shSdc2 clone #2</text>
<rect x="298.10" y="229.00" width="9.40" height="12.50" fill="#e2816f" stroke="none" stroke-width="1.0" />
<rect x="309.80" y="234.80" width="9.00" height="6.70" fill="#8292bb" stroke="none" stroke-width="1.0" />
<rect x="321.50" y="232.50" width="9.20" height="9.00" fill="#aadca2" stroke="none" stroke-width="1.0" />
<rect x="342.30" y="202.80" width="8.70" height="38.70" fill="#e2816f" stroke="none" stroke-width="1.0" />
<rect x="354.00" y="226.00" width="8.80" height="15.50" fill="#8292bb" stroke="none" stroke-width="1.0" />
<rect x="365.30" y="233.10" width="8.70" height="8.40" fill="#aadca2" stroke="none" stroke-width="1.0" />
<circle cx="303.10" cy="224.40" r="2.0" fill="#cf1a35"/>
<circle cx="300.60" cy="233.10" r="2.0" fill="#cf1a35"/>
<circle cx="303.80" cy="230.20" r="2.0" fill="#cf1a35"/>
<circle cx="306.30" cy="230.20" r="2.0" fill="#cf1a35"/>
<circle cx="314.40" cy="227.20" r="2.0" fill="#0f4d8c"/>
<circle cx="311.30" cy="236.00" r="2.0" fill="#0f4d8c"/>
<circle cx="314.40" cy="236.00" r="2.0" fill="#0f4d8c"/>
<circle cx="317.30" cy="236.00" r="2.0" fill="#0f4d8c"/>
<circle cx="323.60" cy="230.20" r="2.0" fill="#2db84b"/>
<circle cx="326.20" cy="230.20" r="2.0" fill="#2db84b"/>
<circle cx="328.80" cy="230.20" r="2.0" fill="#2db84b"/>
<circle cx="344.00" cy="198.10" r="2.0" fill="#cf1a35"/>
<circle cx="349.00" cy="195.60" r="2.0" fill="#cf1a35"/>
<circle cx="346.50" cy="204.00" r="2.0" fill="#cf1a35"/>
<circle cx="346.50" cy="212.80" r="2.0" fill="#cf1a35"/>
<circle cx="355.60" cy="221.50" r="2.0" fill="#0f4d8c"/>
<circle cx="360.60" cy="218.50" r="2.0" fill="#0f4d8c"/>
<circle cx="355.60" cy="232.80" r="2.0" fill="#0f4d8c"/>
<circle cx="360.60" cy="230.00" r="2.0" fill="#0f4d8c"/>
<circle cx="367.30" cy="230.20" r="2.0" fill="#2db84b"/>
<circle cx="372.30" cy="230.20" r="2.0" fill="#2db84b"/>
<circle cx="367.30" cy="235.60" r="2.0" fill="#2db84b"/>
<circle cx="372.30" cy="235.60" r="2.0" fill="#2db84b"/>
<line x1="293.80" y1="241.50" x2="378.80" y2="241.50" stroke="#2b2b2b" stroke-width="1.2" />
<line x1="293.80" y1="183.00" x2="293.80" y2="242.10" stroke="#2b2b2b" stroke-width="1.35" />
<line x1="291.00" y1="183.50" x2="293.80" y2="183.50" stroke="#2b2b2b" stroke-width="1.0" />
<text x="288.20" y="186.10" font-size="8.7" fill="#2a2a2a" text-anchor="end" >20</text>
<line x1="291.00" y1="198.00" x2="293.80" y2="198.00" stroke="#2b2b2b" stroke-width="1.0" />
<text x="288.20" y="200.60" font-size="8.7" fill="#2a2a2a" text-anchor="end" >15</text>
<line x1="291.00" y1="212.50" x2="293.80" y2="212.50" stroke="#2b2b2b" stroke-width="1.0" />
<text x="288.20" y="215.10" font-size="8.7" fill="#2a2a2a" text-anchor="end" >10</text>
<line x1="291.00" y1="227.00" x2="293.80" y2="227.00" stroke="#2b2b2b" stroke-width="1.0" />
<text x="288.20" y="229.60" font-size="8.7" fill="#2a2a2a" text-anchor="end" >5</text>
<line x1="291.00" y1="241.50" x2="293.80" y2="241.50" stroke="#2b2b2b" stroke-width="1.0" />
<text x="288.20" y="244.10" font-size="8.7" fill="#2a2a2a" text-anchor="end" >0</text>
<line x1="314.40" y1="241.50" x2="314.40" y2="244.40" stroke="#2b2b2b" stroke-width="0.9" />
<line x1="358.10" y1="241.50" x2="358.10" y2="244.20" stroke="#2b2b2b" stroke-width="0.9" />
<path d="M302.90,218.80V213.80H314.40V221.90" stroke="#5e5e5e" stroke-width="1.1" fill="none" />
<text x="309.00" y="211.20" font-size="7.3" fill="#2a2a2a" text-anchor="middle" >ns</text>
<path d="M302.90,200.00V196.90H326.20V227.50" stroke="#5e5e5e" stroke-width="1.1" fill="none" />
<text x="318.00" y="194.40" font-size="7.3" fill="#2a2a2a" text-anchor="middle" >ns</text>
<path d="M346.50,190.00V185.00H358.50V213.80" stroke="#5e5e5e" stroke-width="1.1" fill="none" />
<circle cx="347.93" cy="181.30" r="1.12" fill="#333"/>
<circle cx="351.18" cy="181.30" r="1.12" fill="#333"/>
<circle cx="354.43" cy="181.30" r="1.12" fill="#333"/>
<circle cx="357.68" cy="181.30" r="1.12" fill="#333"/>
<path d="M346.50,173.80V168.50H369.60V225.00" stroke="#5e5e5e" stroke-width="1.1" fill="none" />
<circle cx="353.02" cy="163.10" r="1.12" fill="#333"/>
<circle cx="356.27" cy="163.10" r="1.12" fill="#333"/>
<circle cx="359.52" cy="163.10" r="1.12" fill="#333"/>
<circle cx="362.77" cy="163.10" r="1.12" fill="#333"/>
<text x="304.4" y="253.8" font-size="8.9" fill="#2a2a2a">Sdc2<tspan font-size="5.8" dy="-3.5">−</tspan></text>
<text x="347.5" y="253.8" font-size="8.9" fill="#2a2a2a">Sdc2<tspan font-size="5.8" dy="-3.5">+</tspan></text>
<text x="273.80" y="211.30" font-size="10.4" fill="#2a2a2a" text-anchor="middle" textLength="35.00" lengthAdjust="spacingAndGlyphs" transform="rotate(-90 273.80 211.30)" >Total CFCs</text>
<circle cx="412.80" cy="145.40" r="2.1" fill="#cf1a35"/>
<text x="418.50" y="148.30" font-size="7.9" fill="#2a2a2a" >shCtrl</text>
<circle cx="412.80" cy="155.60" r="2.1" fill="#0f4d8c"/>
<text x="418.50" y="158.50" font-size="7.9" fill="#2a2a2a" textLength="52.50" lengthAdjust="spacingAndGlyphs" >shSdc2 clone #1</text>
<circle cx="412.80" cy="165.50" r="2.1" fill="#2db84b"/>
<text x="418.50" y="168.40" font-size="7.9" fill="#2a2a2a" textLength="53.50" lengthAdjust="spacingAndGlyphs" >shSdc2 clone #2</text>
<rect x="431.30" y="235.30" width="8.70" height="6.20" fill="#e2816f" stroke="none" stroke-width="1.0" />
<rect x="443.10" y="238.10" width="8.80" height="3.40" fill="#8292bb" stroke="none" stroke-width="1.0" />
<rect x="476.00" y="207.50" width="8.80" height="34.00" fill="#e2816f" stroke="none" stroke-width="1.0" />
<rect x="487.30" y="231.90" width="9.00" height="9.60" fill="#8292bb" stroke="none" stroke-width="1.0" />
<rect x="499.00" y="234.80" width="9.10" height="6.70" fill="#aadca2" stroke="none" stroke-width="1.0" />
<circle cx="433.10" cy="236.00" r="2.0" fill="#cf1a35"/>
<circle cx="435.60" cy="236.00" r="2.0" fill="#cf1a35"/>
<circle cx="438.10" cy="236.00" r="2.0" fill="#cf1a35"/>
<circle cx="435.60" cy="241.60" r="2.0" fill="#cf1a35"/>
<circle cx="447.30" cy="230.20" r="2.0" fill="#0f4d8c"/>
<circle cx="447.30" cy="236.00" r="2.0" fill="#0f4d8c"/>
<circle cx="444.40" cy="241.60" r="2.0" fill="#0f4d8c"/>
<circle cx="450.00" cy="241.60" r="2.0" fill="#0f4d8c"/>
<circle cx="456.50" cy="241.60" r="2.0" fill="#2db84b"/>
<circle cx="458.50" cy="241.60" r="2.0" fill="#2db84b"/>
<circle cx="460.50" cy="241.60" r="2.0" fill="#2db84b"/>
<circle cx="462.50" cy="241.60" r="2.0" fill="#2db84b"/>
<circle cx="480.00" cy="196.00" r="2.0" fill="#cf1a35"/>
<circle cx="480.00" cy="201.50" r="2.0" fill="#cf1a35"/>
<circle cx="480.00" cy="213.10" r="2.0" fill="#cf1a35"/>
<circle cx="480.00" cy="218.80" r="2.0" fill="#cf1a35"/>
<circle cx="489.00" cy="224.80" r="2.0" fill="#0f4d8c"/>
<circle cx="494.40" cy="224.80" r="2.0" fill="#0f4d8c"/>
<circle cx="491.50" cy="236.00" r="2.0" fill="#0f4d8c"/>
<circle cx="491.50" cy="241.60" r="2.0" fill="#0f4d8c"/>
<circle cx="503.50" cy="230.20" r="2.0" fill="#2db84b"/>
<circle cx="501.00" cy="236.00" r="2.0" fill="#2db84b"/>
<circle cx="506.00" cy="236.00" r="2.0" fill="#2db84b"/>
<circle cx="503.50" cy="241.60" r="2.0" fill="#2db84b"/>
<line x1="426.50" y1="241.50" x2="512.80" y2="241.50" stroke="#2b2b2b" stroke-width="1.2" />
<line x1="426.50" y1="183.90" x2="426.50" y2="242.10" stroke="#2b2b2b" stroke-width="1.35" />
<line x1="423.70" y1="184.40" x2="426.50" y2="184.40" stroke="#2b2b2b" stroke-width="1.0" />
<text x="420.90" y="187.00" font-size="8.7" fill="#2a2a2a" text-anchor="end" >10</text>
<line x1="423.70" y1="195.80" x2="426.50" y2="195.80" stroke="#2b2b2b" stroke-width="1.0" />
<text x="420.90" y="198.40" font-size="8.7" fill="#2a2a2a" text-anchor="end" >8</text>
<line x1="423.70" y1="207.20" x2="426.50" y2="207.20" stroke="#2b2b2b" stroke-width="1.0" />
<text x="420.90" y="209.80" font-size="8.7" fill="#2a2a2a" text-anchor="end" >6</text>
<line x1="423.70" y1="218.70" x2="426.50" y2="218.70" stroke="#2b2b2b" stroke-width="1.0" />
<text x="420.90" y="221.30" font-size="8.7" fill="#2a2a2a" text-anchor="end" >4</text>
<line x1="423.70" y1="230.10" x2="426.50" y2="230.10" stroke="#2b2b2b" stroke-width="1.0" />
<text x="420.90" y="232.70" font-size="8.7" fill="#2a2a2a" text-anchor="end" >2</text>
<line x1="423.70" y1="241.50" x2="426.50" y2="241.50" stroke="#2b2b2b" stroke-width="1.0" />
<text x="420.90" y="244.10" font-size="8.7" fill="#2a2a2a" text-anchor="end" >0</text>
<line x1="447.50" y1="241.50" x2="447.50" y2="244.40" stroke="#2b2b2b" stroke-width="0.9" />
<line x1="491.50" y1="241.50" x2="491.50" y2="244.40" stroke="#2b2b2b" stroke-width="0.9" />
<path d="M435.60,231.20V220.00H447.50V225.00" stroke="#5e5e5e" stroke-width="1.1" fill="none" />
<text x="441.60" y="217.50" font-size="7.3" fill="#2a2a2a" text-anchor="middle" >ns</text>
<path d="M435.60,211.90V206.50H459.40V236.90" stroke="#5e5e5e" stroke-width="1.1" fill="none" />
<text x="447.50" y="204.80" font-size="7.3" fill="#2a2a2a" text-anchor="middle" >ns</text>
<path d="M480.30,190.50V185.30H491.50V218.80" stroke="#5e5e5e" stroke-width="1.1" fill="none" />
<circle cx="481.12" cy="181.30" r="1.12" fill="#333"/>
<circle cx="484.38" cy="181.30" r="1.12" fill="#333"/>
<circle cx="487.62" cy="181.30" r="1.12" fill="#333"/>
<circle cx="490.88" cy="181.30" r="1.12" fill="#333"/>
<path d="M480.30,173.80V168.80H503.50V225.00" stroke="#5e5e5e" stroke-width="1.1" fill="none" />
<circle cx="486.93" cy="164.80" r="1.12" fill="#333"/>
<circle cx="490.18" cy="164.80" r="1.12" fill="#333"/>
<circle cx="493.43" cy="164.80" r="1.12" fill="#333"/>
<circle cx="496.68" cy="164.80" r="1.12" fill="#333"/>
<text x="437.3" y="253.8" font-size="8.9" fill="#2a2a2a">Sdc2<tspan font-size="5.8" dy="-3.5">−</tspan></text>
<text x="481.2" y="253.8" font-size="8.9" fill="#2a2a2a">Sdc2<tspan font-size="5.8" dy="-3.5">+</tspan></text>
<text x="407.40" y="212.30" font-size="10.4" fill="#2a2a2a" text-anchor="middle" textLength="37.40" lengthAdjust="spacingAndGlyphs" transform="rotate(-90 407.40 212.30)" >CFU GEMM</text>
<line x1="44.60" y1="282.70" x2="44.60" y2="354.25" stroke="#2b2b2b" stroke-width="1.2" />
<line x1="44.60" y1="353.75" x2="117.25" y2="353.75" stroke="#2b2b2b" stroke-width="1.2" />
<line x1="41.80" y1="283.10" x2="44.60" y2="283.10" stroke="#2b2b2b" stroke-width="1.0" />
<text x="39.30" y="286.10" font-size="8.5" fill="#2a2a2a" text-anchor="end" >30</text>
<line x1="41.80" y1="306.60" x2="44.60" y2="306.60" stroke="#2b2b2b" stroke-width="1.0" />
<text x="39.30" y="309.60" font-size="8.5" fill="#2a2a2a" text-anchor="end" >20</text>
<line x1="41.80" y1="330.20" x2="44.60" y2="330.20" stroke="#2b2b2b" stroke-width="1.0" />
<text x="39.30" y="333.20" font-size="8.5" fill="#2a2a2a" text-anchor="end" >10</text>
<line x1="41.80" y1="353.75" x2="44.60" y2="353.75" stroke="#2b2b2b" stroke-width="1.0" />
<text x="39.30" y="356.75" font-size="8.5" fill="#2a2a2a" text-anchor="end" >0</text>
<line x1="46.25" y1="353.75" x2="46.25" y2="356.15" stroke="#2b2b2b" stroke-width="1.0" />
<text x="46.25" y="366.20" font-size="8.6" fill="#2a2a2a" text-anchor="middle" >4</text>
<line x1="70.00" y1="353.75" x2="70.00" y2="356.15" stroke="#2b2b2b" stroke-width="1.0" />
<text x="70.00" y="366.20" font-size="8.6" fill="#2a2a2a" text-anchor="middle" >8</text>
<line x1="94.00" y1="353.75" x2="94.00" y2="356.15" stroke="#2b2b2b" stroke-width="1.0" />
<text x="94.00" y="366.20" font-size="8.6" fill="#2a2a2a" text-anchor="middle" >12</text>
<line x1="117.25" y1="353.75" x2="117.25" y2="356.15" stroke="#2b2b2b" stroke-width="1.0" />
<text x="117.25" y="366.20" font-size="8.6" fill="#2a2a2a" text-anchor="middle" >16</text>
<path d="M46.25,319.00V331.00M44.35,319.00H48.15M44.35,331.00H48.15" stroke="#3a78b0" stroke-width="1.05" fill="none" />
<path d="M70.00,337.00V343.50M68.10,337.00H71.90M68.10,343.50H71.90" stroke="#3a78b0" stroke-width="1.05" fill="none" />
<path d="M94.00,339.00V343.50M92.10,339.00H95.90M92.10,343.50H95.90" stroke="#3a78b0" stroke-width="1.05" fill="none" />
<path d="M117.25,334.40V342.50M115.35,334.40H119.15M115.35,342.50H119.15" stroke="#3a78b0" stroke-width="1.05" fill="none" />
<path d="M46.25,325.50 L70.00,340.25 L94.00,341.25 L117.25,338.50" stroke="#0f4d8c" stroke-width="1.4" fill="none" stroke-linejoin="round"/>
<circle cx="46.25" cy="325.50" r="1.85" fill="#0f4d8c"/>
<circle cx="70.00" cy="340.25" r="1.85" fill="#0f4d8c"/>
<circle cx="94.00" cy="341.25" r="1.85" fill="#0f4d8c"/>
<circle cx="117.25" cy="338.50" r="1.85" fill="#0f4d8c"/>
<path d="M46.25,324.50V333.00M44.35,324.50H48.15M44.35,333.00H48.15" stroke="#d43a50" stroke-width="1.05" fill="none" />
<path d="M70.00,331.00V339.00M68.10,331.00H71.90M68.10,339.00H71.90" stroke="#d43a50" stroke-width="1.05" fill="none" />
<path d="M94.00,335.00V341.00M92.10,335.00H95.90M92.10,341.00H95.90" stroke="#d43a50" stroke-width="1.05" fill="none" />
<path d="M117.25,335.50V341.50M115.35,335.50H119.15M115.35,341.50H119.15" stroke="#d43a50" stroke-width="1.05" fill="none" />
<path d="M46.25,328.20 L70.00,335.00 L94.00,337.90 L117.25,338.50" stroke="#cf1a35" stroke-width="1.4" fill="none" stroke-linejoin="round"/>
<circle cx="46.25" cy="328.20" r="1.85" fill="#cf1a35"/>
<circle cx="70.00" cy="335.00" r="1.85" fill="#cf1a35"/>
<circle cx="94.00" cy="337.90" r="1.85" fill="#cf1a35"/>
<circle cx="117.25" cy="338.50" r="1.85" fill="#cf1a35"/>
<text x="71.00" y="280.80" font-size="9.9" fill="#2a2a2a" textLength="20.90" lengthAdjust="spacingAndGlyphs" >Total</text>
<line x1="50.60" y1="295.40" x2="58.75" y2="295.40" stroke="#cf1a35" stroke-width="1.4" />
<circle cx="54.70" cy="295.40" r="1.6" fill="#cf1a35"/>
<line x1="50.60" y1="303.10" x2="58.75" y2="303.10" stroke="#0f4d8c" stroke-width="1.4" />
<circle cx="54.70" cy="303.10" r="1.6" fill="#0f4d8c"/>
<text x="61.20" y="297.60" font-size="7.9" fill="#2a2a2a" textLength="21.30" lengthAdjust="spacingAndGlyphs" >shCtrl</text>
<text x="61.20" y="305.50" font-size="7.9" fill="#2a2a2a" textLength="25.70" lengthAdjust="spacingAndGlyphs" >shSdc2</text>
<text x="25.00" y="318.10" font-size="9.4" fill="#2a2a2a" text-anchor="middle" textLength="26.30" lengthAdjust="spacingAndGlyphs" transform="rotate(-90 25.00 318.10)" >% donor</text>
<text x="43.90" y="377.40" font-size="9.6" fill="#2a2a2a" textLength="73.60" lengthAdjust="spacingAndGlyphs" >Weeks after transplant</text>
<path d="M128.75,375H425" stroke="#1a1a1a" stroke-width="1.3" fill="none" />
<path d="M423.8,371.9L434.8,375L423.8,378.1Z" stroke="none" stroke-width="1.0" fill="#1a1a1a" />
<line x1="151.50" y1="281.85" x2="151.50" y2="354.25" stroke="#2b2b2b" stroke-width="1.2" />
<line x1="151.50" y1="353.75" x2="225.25" y2="353.75" stroke="#2b2b2b" stroke-width="1.2" />
<line x1="148.70" y1="282.25" x2="151.50" y2="282.25" stroke="#2b2b2b" stroke-width="1.0" />
<text x="146.20" y="285.25" font-size="8.5" fill="#2a2a2a" text-anchor="end" >50</text>
<line x1="148.70" y1="296.55" x2="151.50" y2="296.55" stroke="#2b2b2b" stroke-width="1.0" />
<text x="146.20" y="299.55" font-size="8.5" fill="#2a2a2a" text-anchor="end" >40</text>
<line x1="148.70" y1="310.85" x2="151.50" y2="310.85" stroke="#2b2b2b" stroke-width="1.0" />
<text x="146.20" y="313.85" font-size="8.5" fill="#2a2a2a" text-anchor="end" >30</text>
<line x1="148.70" y1="325.15" x2="151.50" y2="325.15" stroke="#2b2b2b" stroke-width="1.0" />
<text x="146.20" y="328.15" font-size="8.5" fill="#2a2a2a" text-anchor="end" >20</text>
<line x1="148.70" y1="339.45" x2="151.50" y2="339.45" stroke="#2b2b2b" stroke-width="1.0" />
<text x="146.20" y="342.45" font-size="8.5" fill="#2a2a2a" text-anchor="end" >10</text>
<line x1="148.70" y1="353.75" x2="151.50" y2="353.75" stroke="#2b2b2b" stroke-width="1.0" />
<text x="146.20" y="356.75" font-size="8.5" fill="#2a2a2a" text-anchor="end" >0</text>
<line x1="152.80" y1="353.75" x2="152.80" y2="356.15" stroke="#2b2b2b" stroke-width="1.0" />
<text x="152.80" y="366.20" font-size="8.6" fill="#2a2a2a" text-anchor="middle" >4</text>
<line x1="176.90" y1="353.75" x2="176.90" y2="356.15" stroke="#2b2b2b" stroke-width="1.0" />
<text x="176.90" y="366.20" font-size="8.6" fill="#2a2a2a" text-anchor="middle" >8</text>
<line x1="201.25" y1="353.75" x2="201.25" y2="356.15" stroke="#2b2b2b" stroke-width="1.0" />
<text x="201.25" y="366.20" font-size="8.6" fill="#2a2a2a" text-anchor="middle" >12</text>
<line x1="225.25" y1="353.75" x2="225.25" y2="356.15" stroke="#2b2b2b" stroke-width="1.0" />
<text x="225.25" y="366.20" font-size="8.6" fill="#2a2a2a" text-anchor="middle" >16</text>
<path d="M152.80,303.50V317.00M150.90,303.50H154.70M150.90,317.00H154.70" stroke="#3a78b0" stroke-width="1.05" fill="none" />
<path d="M176.90,337.50V344.40M175.00,337.50H178.80M175.00,344.40H178.80" stroke="#3a78b0" stroke-width="1.05" fill="none" />
<path d="M201.25,340.50V346.00M199.35,340.50H203.15M199.35,346.00H203.15" stroke="#3a78b0" stroke-width="1.05" fill="none" />
<path d="M225.25,340.25V345.60M223.35,340.25H227.15M223.35,345.60H227.15" stroke="#3a78b0" stroke-width="1.05" fill="none" />
<path d="M152.80,310.30 L176.90,341.30 L201.25,343.30 L225.25,343.20" stroke="#0f4d8c" stroke-width="1.4" fill="none" stroke-linejoin="round"/>
<circle cx="152.80" cy="310.30" r="1.85" fill="#0f4d8c"/>
<circle cx="176.90" cy="341.30" r="1.85" fill="#0f4d8c"/>
<circle cx="201.25" cy="343.30" r="1.85" fill="#0f4d8c"/>
<circle cx="225.25" cy="343.20" r="1.85" fill="#0f4d8c"/>
<path d="M152.80,304.40V318.00M150.90,304.40H154.70M150.90,318.00H154.70" stroke="#d43a50" stroke-width="1.05" fill="none" />
<path d="M176.90,339.00V344.50M175.00,339.00H178.80M175.00,344.50H178.80" stroke="#d43a50" stroke-width="1.05" fill="none" />
<path d="M201.25,341.00V345.00M199.35,341.00H203.15M199.35,345.00H203.15" stroke="#d43a50" stroke-width="1.05" fill="none" />
<path d="M225.25,341.50V346.00M223.35,341.50H227.15M223.35,346.00H227.15" stroke="#d43a50" stroke-width="1.05" fill="none" />
<path d="M152.80,311.25 L176.90,341.90 L201.25,343.10 L225.25,343.75" stroke="#cf1a35" stroke-width="1.4" fill="none" stroke-linejoin="round"/>
<circle cx="152.80" cy="311.25" r="1.85" fill="#cf1a35"/>
<circle cx="176.90" cy="341.90" r="1.85" fill="#cf1a35"/>
<circle cx="201.25" cy="343.10" r="1.85" fill="#cf1a35"/>
<circle cx="225.25" cy="343.75" r="1.85" fill="#cf1a35"/>
<text x="174.40" y="280.60" font-size="9.9" fill="#2a2a2a" textLength="27.00" lengthAdjust="spacingAndGlyphs" >B cells</text>
<line x1="255.30" y1="281.85" x2="255.30" y2="354.25" stroke="#2b2b2b" stroke-width="1.2" />
<line x1="255.30" y1="353.75" x2="328.50" y2="353.75" stroke="#2b2b2b" stroke-width="1.2" />
<line x1="252.50" y1="282.25" x2="255.30" y2="282.25" stroke="#2b2b2b" stroke-width="1.0" />
<text x="250.00" y="285.25" font-size="8.5" fill="#2a2a2a" text-anchor="end" >15</text>
<line x1="252.50" y1="306.10" x2="255.30" y2="306.10" stroke="#2b2b2b" stroke-width="1.0" />
<text x="250.00" y="309.10" font-size="8.5" fill="#2a2a2a" text-anchor="end" >10</text>
<line x1="252.50" y1="329.90" x2="255.30" y2="329.90" stroke="#2b2b2b" stroke-width="1.0" />
<text x="250.00" y="332.90" font-size="8.5" fill="#2a2a2a" text-anchor="end" >5</text>
<line x1="252.50" y1="353.75" x2="255.30" y2="353.75" stroke="#2b2b2b" stroke-width="1.0" />
<text x="250.00" y="356.75" font-size="8.5" fill="#2a2a2a" text-anchor="end" >0</text>
<line x1="257.00" y1="353.75" x2="257.00" y2="356.15" stroke="#2b2b2b" stroke-width="1.0" />
<text x="257.00" y="366.20" font-size="8.6" fill="#2a2a2a" text-anchor="middle" >4</text>
<line x1="280.60" y1="353.75" x2="280.60" y2="356.15" stroke="#2b2b2b" stroke-width="1.0" />
<text x="280.60" y="366.20" font-size="8.6" fill="#2a2a2a" text-anchor="middle" >8</text>
<line x1="304.75" y1="353.75" x2="304.75" y2="356.15" stroke="#2b2b2b" stroke-width="1.0" />
<text x="304.75" y="366.20" font-size="8.6" fill="#2a2a2a" text-anchor="middle" >12</text>
<line x1="328.50" y1="353.75" x2="328.50" y2="356.15" stroke="#2b2b2b" stroke-width="1.0" />
<text x="328.50" y="366.20" font-size="8.6" fill="#2a2a2a" text-anchor="middle" >16</text>
<path d="M280.60,341.50V346.00M278.70,341.50H282.50M278.70,346.00H282.50" stroke="#3a78b0" stroke-width="1.05" fill="none" />
<path d="M304.75,331.25V340.60M302.85,331.25H306.65M302.85,340.60H306.65" stroke="#3a78b0" stroke-width="1.05" fill="none" />
<path d="M328.50,313.00V338.00M326.60,313.00H330.40M326.60,338.00H330.40" stroke="#3a78b0" stroke-width="1.05" fill="none" />
<path d="M257.00,353.20 L280.60,343.75 L304.75,336.50 L328.50,325.50" stroke="#0f4d8c" stroke-width="1.4" fill="none" stroke-linejoin="round"/>
<circle cx="257.00" cy="353.20" r="1.85" fill="#0f4d8c"/>
<circle cx="280.60" cy="343.75" r="1.85" fill="#0f4d8c"/>
<circle cx="304.75" cy="336.50" r="1.85" fill="#0f4d8c"/>
<circle cx="328.50" cy="325.50" r="1.85" fill="#0f4d8c"/>
<path d="M257.00,349.50V354.00M255.10,349.50H258.90M255.10,354.00H258.90" stroke="#d43a50" stroke-width="1.05" fill="none" />
<path d="M280.60,307.50V333.10M278.70,307.50H282.50M278.70,333.10H282.50" stroke="#d43a50" stroke-width="1.05" fill="none" />
<path d="M304.75,317.75V334.40M302.85,317.75H306.65M302.85,334.40H306.65" stroke="#d43a50" stroke-width="1.05" fill="none" />
<path d="M328.50,317.00V332.50M326.60,317.00H330.40M326.60,332.50H330.40" stroke="#d43a50" stroke-width="1.05" fill="none" />
<path d="M257.00,351.80 L280.60,320.40 L304.75,326.00 L328.50,323.75" stroke="#cf1a35" stroke-width="1.4" fill="none" stroke-linejoin="round"/>
<circle cx="257.00" cy="351.80" r="1.85" fill="#cf1a35"/>
<circle cx="280.60" cy="320.40" r="1.85" fill="#cf1a35"/>
<circle cx="304.75" cy="326.00" r="1.85" fill="#cf1a35"/>
<circle cx="328.50" cy="323.75" r="1.85" fill="#cf1a35"/>
<text x="278.50" y="280.60" font-size="9.9" fill="#2a2a2a" textLength="25.90" lengthAdjust="spacingAndGlyphs" >T cells</text>
<line x1="359.40" y1="282.70" x2="359.40" y2="354.25" stroke="#2b2b2b" stroke-width="1.2" />
<line x1="359.40" y1="353.75" x2="431.90" y2="353.75" stroke="#2b2b2b" stroke-width="1.2" />
<line x1="356.60" y1="283.10" x2="359.40" y2="283.10" stroke="#2b2b2b" stroke-width="1.0" />
<text x="354.10" y="286.10" font-size="8.5" fill="#2a2a2a" text-anchor="end" >10</text>
<line x1="356.60" y1="297.20" x2="359.40" y2="297.20" stroke="#2b2b2b" stroke-width="1.0" />
<text x="354.10" y="300.20" font-size="8.5" fill="#2a2a2a" text-anchor="end" >8</text>
<line x1="356.60" y1="311.30" x2="359.40" y2="311.30" stroke="#2b2b2b" stroke-width="1.0" />
<text x="354.10" y="314.30" font-size="8.5" fill="#2a2a2a" text-anchor="end" >6</text>
<line x1="356.60" y1="325.45" x2="359.40" y2="325.45" stroke="#2b2b2b" stroke-width="1.0" />
<text x="354.10" y="328.45" font-size="8.5" fill="#2a2a2a" text-anchor="end" >4</text>
<line x1="356.60" y1="339.60" x2="359.40" y2="339.60" stroke="#2b2b2b" stroke-width="1.0" />
<text x="354.10" y="342.60" font-size="8.5" fill="#2a2a2a" text-anchor="end" >2</text>
<line x1="356.60" y1="353.75" x2="359.40" y2="353.75" stroke="#2b2b2b" stroke-width="1.0" />
<text x="354.10" y="356.75" font-size="8.5" fill="#2a2a2a" text-anchor="end" >0</text>
<line x1="365.00" y1="353.75" x2="365.00" y2="356.15" stroke="#2b2b2b" stroke-width="1.0" />
<text x="365.00" y="366.20" font-size="8.6" fill="#2a2a2a" text-anchor="middle" >4</text>
<line x1="387.50" y1="353.75" x2="387.50" y2="356.15" stroke="#2b2b2b" stroke-width="1.0" />
<text x="387.50" y="366.20" font-size="8.6" fill="#2a2a2a" text-anchor="middle" >8</text>
<line x1="409.40" y1="353.75" x2="409.40" y2="356.15" stroke="#2b2b2b" stroke-width="1.0" />
<text x="409.40" y="366.20" font-size="8.6" fill="#2a2a2a" text-anchor="middle" >12</text>
<line x1="431.90" y1="353.75" x2="431.90" y2="356.15" stroke="#2b2b2b" stroke-width="1.0" />
<text x="431.90" y="366.20" font-size="8.6" fill="#2a2a2a" text-anchor="middle" >16</text>
<path d="M365.00,331.25V339.40M363.10,331.25H366.90M363.10,339.40H366.90" stroke="#3a78b0" stroke-width="1.05" fill="none" />
<path d="M387.50,338.50V343.50M385.60,338.50H389.40M385.60,343.50H389.40" stroke="#3a78b0" stroke-width="1.05" fill="none" />
<path d="M409.40,331.90V339.00M407.50,331.90H411.30M407.50,339.00H411.30" stroke="#3a78b0" stroke-width="1.05" fill="none" />
<path d="M431.90,319.75V335.25M430.00,319.75H433.80M430.00,335.25H433.80" stroke="#3a78b0" stroke-width="1.05" fill="none" />
<path d="M365.00,335.60 L387.50,341.00 L409.40,336.00 L431.90,327.50" stroke="#0f4d8c" stroke-width="1.4" fill="none" stroke-linejoin="round"/>
<circle cx="365.00" cy="335.60" r="1.85" fill="#0f4d8c"/>
<circle cx="387.50" cy="341.00" r="1.85" fill="#0f4d8c"/>
<circle cx="409.40" cy="336.00" r="1.85" fill="#0f4d8c"/>
<circle cx="431.90" cy="327.50" r="1.85" fill="#0f4d8c"/>
<path d="M365.00,305.25V317.50M363.10,305.25H366.90M363.10,317.50H366.90" stroke="#d43a50" stroke-width="1.05" fill="none" />
<path d="M387.50,302.25V319.40M385.60,302.25H389.40M385.60,319.40H389.40" stroke="#d43a50" stroke-width="1.05" fill="none" />
<path d="M409.40,307.25V320.60M407.50,307.25H411.30M407.50,320.60H411.30" stroke="#d43a50" stroke-width="1.05" fill="none" />
<path d="M431.90,299.40V315.25M430.00,299.40H433.80M430.00,315.25H433.80" stroke="#d43a50" stroke-width="1.05" fill="none" />
<path d="M365.00,311.25 L387.50,311.00 L409.40,314.00 L431.90,307.50" stroke="#cf1a35" stroke-width="1.4" fill="none" stroke-linejoin="round"/>
<circle cx="365.00" cy="311.25" r="1.85" fill="#cf1a35"/>
<circle cx="387.50" cy="311.00" r="1.85" fill="#cf1a35"/>
<circle cx="409.40" cy="314.00" r="1.85" fill="#cf1a35"/>
<circle cx="431.90" cy="307.50" r="1.85" fill="#cf1a35"/>
<text x="368.10" y="280.60" font-size="9.9" fill="#2a2a2a" textLength="55.40" lengthAdjust="spacingAndGlyphs" >Myeloid cells</text>
<circle cx="365.00" cy="295.40" r="1.12" fill="#333"/>
<circle cx="385.80" cy="295.40" r="1.12" fill="#333"/>
<circle cx="389.20" cy="295.40" r="1.12" fill="#333"/>
<circle cx="409.40" cy="295.40" r="1.12" fill="#333"/>
<circle cx="431.90" cy="295.40" r="1.12" fill="#333"/>
<rect x="52.50" y="467.10" width="13.50" height="17.40" fill="#e2816f" stroke="none" stroke-width="1.0" />
<rect x="73.50" y="480.60" width="13.20" height="3.90" fill="#8292bb" stroke="none" stroke-width="1.0" />
<line x1="45.30" y1="399.80" x2="45.30" y2="485.10" stroke="#2b2b2b" stroke-width="1.2" />
<line x1="45.30" y1="484.50" x2="93.70" y2="484.50" stroke="#2b2b2b" stroke-width="1.2" />
<line x1="42.50" y1="400.25" x2="45.30" y2="400.25" stroke="#2b2b2b" stroke-width="1.0" />
<text x="39.60" y="402.95" font-size="8.0" fill="#2a2a2a" text-anchor="end" >8</text>
<line x1="42.50" y1="421.25" x2="45.30" y2="421.25" stroke="#2b2b2b" stroke-width="1.0" />
<text x="39.60" y="423.95" font-size="8.0" fill="#2a2a2a" text-anchor="end" >6</text>
<line x1="42.50" y1="442.40" x2="45.30" y2="442.40" stroke="#2b2b2b" stroke-width="1.0" />
<text x="39.60" y="445.10" font-size="8.0" fill="#2a2a2a" text-anchor="end" >4</text>
<line x1="42.50" y1="463.50" x2="45.30" y2="463.50" stroke="#2b2b2b" stroke-width="1.0" />
<text x="39.60" y="466.20" font-size="8.0" fill="#2a2a2a" text-anchor="end" >2</text>
<line x1="42.50" y1="484.50" x2="45.30" y2="484.50" stroke="#2b2b2b" stroke-width="1.0" />
<text x="39.60" y="487.20" font-size="8.0" fill="#2a2a2a" text-anchor="end" >0</text>
<line x1="59.40" y1="484.50" x2="59.40" y2="487.40" stroke="#2b2b2b" stroke-width="0.9" />
<line x1="80.15" y1="484.50" x2="80.15" y2="487.40" stroke="#2b2b2b" stroke-width="0.9" />
<circle cx="59.40" cy="424.40" r="2.0" fill="#cf1a35"/>
<circle cx="59.40" cy="452.10" r="2.0" fill="#cf1a35"/>
<circle cx="59.40" cy="458.10" r="2.0" fill="#cf1a35"/>
<circle cx="59.40" cy="463.40" r="2.0" fill="#cf1a35"/>
<circle cx="54.65" cy="473.50" r="2.0" fill="#cf1a35"/>
<circle cx="59.40" cy="474.40" r="2.0" fill="#cf1a35"/>
<circle cx="63.90" cy="473.20" r="2.0" fill="#cf1a35"/>
<circle cx="54.65" cy="483.80" r="2.0" fill="#cf1a35"/>
<circle cx="59.40" cy="482.50" r="2.0" fill="#cf1a35"/>
<circle cx="63.90" cy="483.50" r="2.0" fill="#cf1a35"/>
<circle cx="80.15" cy="461.90" r="2.0" fill="#0f4d8c"/>
<circle cx="80.15" cy="478.10" r="2.0" fill="#0f4d8c"/>
<circle cx="76.90" cy="479.80" r="2.0" fill="#0f4d8c"/>
<circle cx="83.30" cy="481.00" r="2.0" fill="#0f4d8c"/>
<circle cx="75.20" cy="483.60" r="2.0" fill="#0f4d8c"/>
<circle cx="79.20" cy="482.90" r="2.0" fill="#0f4d8c"/>
<circle cx="82.10" cy="483.80" r="2.0" fill="#0f4d8c"/>
<circle cx="85.00" cy="483.80" r="2.0" fill="#0f4d8c"/>
<circle cx="80.15" cy="485.60" r="2.0" fill="#0f4d8c"/>
<circle cx="77.50" cy="485.20" r="2.0" fill="#0f4d8c"/>
<path d="M59.40,418.75V413.30H80.15V443.50" stroke="#5e5e5e" stroke-width="1.1" fill="none" />
<circle cx="69.75" cy="409.80" r="1.12" fill="#333"/>
<text x="64.00" y="492.00" font-size="8.4" fill="#2a2a2a" text-anchor="end" textLength="22.00" lengthAdjust="spacingAndGlyphs" transform="rotate(-45 64.00 492.00)" >shCtrl</text>
<text x="85.60" y="492.40" font-size="8.4" fill="#2a2a2a" text-anchor="end" textLength="25.50" lengthAdjust="spacingAndGlyphs" transform="rotate(-45 85.60 492.40)" >shSdc2</text>
<text x="18.60" y="441.50" font-size="8.6" fill="#2a2a2a" text-anchor="middle" textLength="27.50" lengthAdjust="spacingAndGlyphs" transform="rotate(-90 18.60 441.50)" >% donor</text>
<text x="29.6" y="443.0" font-size="8.6" fill="#2a2a2a" text-anchor="middle" transform="rotate(-90 29.6 443.0)" textLength="61.5" lengthAdjust="spacingAndGlyphs">CD150<tspan font-size="5.6" dy="-3.2">+</tspan><tspan dy="3.2">CD48</tspan><tspan font-size="5.6" dy="-3.2">−</tspan><tspan dy="3.2">KSL</tspan></text>
<text x="181.0" y="413.8" font-size="8.8" fill="#2a2a2a" textLength="110" lengthAdjust="spacingAndGlyphs">Gated on CD45.1 34<tspan font-size="5.6" dy="-3.2">−</tspan><tspan dy="3.2">KSL:</tspan></text>
<rect x="150.30" y="417.30" width="74.60" height="74.60" fill="none" stroke="#1e1e1e" stroke-width="1.2" />
<path d="M147.90,419.30H150.30M148.80,423.02H150.30M148.80,426.73H150.30M148.80,430.45H150.30M147.90,434.16H150.30M148.80,437.88H150.30M148.80,441.59H150.30M148.80,445.31H150.30M147.90,449.03H150.30M148.80,452.74H150.30M148.80,456.46H150.30M148.80,460.17H150.30M147.90,463.89H150.30M148.80,467.61H150.30M148.80,471.32H150.30M148.80,475.04H150.30M147.90,478.75H150.30M148.80,482.47H150.30M148.80,486.18H150.30M148.80,489.90H150.30M153.30,491.90V494.30M157.87,491.90V493.40M162.45,491.90V493.40M167.02,491.90V494.30M171.59,491.90V493.40M176.17,491.90V493.40M180.74,491.90V494.30M185.31,491.90V493.40M189.89,491.90V493.40M194.46,491.90V494.30M199.03,491.90V493.40M203.61,491.90V493.40M208.18,491.90V494.30M212.75,491.90V493.40M217.33,491.90V493.40M221.90,491.90V494.30" stroke="#333" stroke-width="0.6" fill="none" />
<text x="145.10" y="427.20" font-size="6.2" fill="#444" text-anchor="end" >10</text>
<text x="145.30" y="424.60" font-size="3.8" fill="#444" >5</text>
<text x="145.10" y="445.80" font-size="6.2" fill="#444" text-anchor="end" >10</text>
<text x="145.30" y="443.20" font-size="3.8" fill="#444" >4</text>
<text x="145.10" y="465.40" font-size="6.2" fill="#444" text-anchor="end" >10</text>
<text x="145.30" y="462.80" font-size="3.8" fill="#444" >3</text>
<text x="145.70" y="477.20" font-size="6.2" fill="#444" text-anchor="end" >0</text>
<text x="145.10" y="490.10" font-size="6.2" fill="#444" text-anchor="end" >−10</text>
<text x="145.30" y="487.50" font-size="3.8" fill="#444" >3</text>
<text x="160.30" y="501.90" font-size="6.2" fill="#444" text-anchor="middle" >0</text>
<text x="177.80" y="501.90" font-size="6.2" fill="#444" text-anchor="middle" textLength="10.60" lengthAdjust="spacingAndGlyphs" >10K</text>
<text x="195.10" y="501.90" font-size="6.2" fill="#444" text-anchor="middle" textLength="10.60" lengthAdjust="spacingAndGlyphs" >20K</text>
<text x="212.30" y="501.90" font-size="6.2" fill="#444" text-anchor="middle" textLength="10.60" lengthAdjust="spacingAndGlyphs" >30K</text>
<text x="178.50" y="427.00" font-size="7.4" fill="#2a2a2a" textLength="19.50" lengthAdjust="spacingAndGlyphs" >shCtrl</text>
<text x="161.00" y="440.80" font-size="7.4" fill="#444" textLength="14.00" lengthAdjust="spacingAndGlyphs" >17%</text>
<text x="201.80" y="440.80" font-size="7.4" fill="#444" textLength="10.00" lengthAdjust="spacingAndGlyphs" >3%</text>
<text x="158.80" y="483.90" font-size="7.4" fill="#444" textLength="13.80" lengthAdjust="spacingAndGlyphs" >78%</text>
<rect x="249.30" y="417.30" width="74.60" height="74.60" fill="none" stroke="#1e1e1e" stroke-width="1.2" />
<path d="M246.90,419.30H249.30M247.80,423.02H249.30M247.80,426.73H249.30M247.80,430.45H249.30M246.90,434.16H249.30M247.80,437.88H249.30M247.80,441.59H249.30M247.80,445.31H249.30M246.90,449.03H249.30M247.80,452.74H249.30M247.80,456.46H249.30M247.80,460.17H249.30M246.90,463.89H249.30M247.80,467.61H249.30M247.80,471.32H249.30M247.80,475.04H249.30M246.90,478.75H249.30M247.80,482.47H249.30M247.80,486.18H249.30M247.80,489.90H249.30M252.30,491.90V494.30M256.87,491.90V493.40M261.45,491.90V493.40M266.02,491.90V494.30M270.59,491.90V493.40M275.17,491.90V493.40M279.74,491.90V494.30M284.31,491.90V493.40M288.89,491.90V493.40M293.46,491.90V494.30M298.03,491.90V493.40M302.61,491.90V493.40M307.18,491.90V494.30M311.75,491.90V493.40M316.33,491.90V493.40M320.90,491.90V494.30" stroke="#333" stroke-width="0.6" fill="none" />
<text x="244.10" y="427.20" font-size="6.2" fill="#444" text-anchor="end" >10</text>
<text x="244.30" y="424.60" font-size="3.8" fill="#444" >5</text>
<text x="244.10" y="445.80" font-size="6.2" fill="#444" text-anchor="end" >10</text>
<text x="244.30" y="443.20" font-size="3.8" fill="#444" >4</text>
<text x="244.10" y="465.40" font-size="6.2" fill="#444" text-anchor="end" >10</text>
<text x="244.30" y="462.80" font-size="3.8" fill="#444" >3</text>
<text x="244.70" y="477.20" font-size="6.2" fill="#444" text-anchor="end" >0</text>
<text x="244.10" y="490.10" font-size="6.2" fill="#444" text-anchor="end" >−10</text>
<text x="244.30" y="487.50" font-size="3.8" fill="#444" >3</text>
<text x="259.30" y="501.90" font-size="6.2" fill="#444" text-anchor="middle" >0</text>
<text x="276.80" y="501.90" font-size="6.2" fill="#444" text-anchor="middle" textLength="10.60" lengthAdjust="spacingAndGlyphs" >10K</text>
<text x="294.10" y="501.90" font-size="6.2" fill="#444" text-anchor="middle" textLength="10.60" lengthAdjust="spacingAndGlyphs" >20K</text>
<text x="311.30" y="501.90" font-size="6.2" fill="#444" text-anchor="middle" textLength="10.60" lengthAdjust="spacingAndGlyphs" >30K</text>
<text x="274.70" y="427.00" font-size="7.4" fill="#2a2a2a" textLength="23.40" lengthAdjust="spacingAndGlyphs" >shSdc2</text>
<text x="259.40" y="440.80" font-size="7.4" fill="#444" textLength="13.70" lengthAdjust="spacingAndGlyphs" >26%</text>
<text x="298.10" y="440.80" font-size="7.4" fill="#444" textLength="13.20" lengthAdjust="spacingAndGlyphs" >16%</text>
<text x="258.10" y="483.90" font-size="7.4" fill="#444" textLength="14.10" lengthAdjust="spacingAndGlyphs" >47%</text>
<text x="133.80" y="455.00" font-size="8.8" fill="#2a2a2a" text-anchor="middle" textLength="17.30" lengthAdjust="spacingAndGlyphs" transform="rotate(-90 133.80 455.00)" >Ki-67</text>
<text x="178.00" y="512.50" font-size="10.2" fill="#2a2a2a" textLength="19.50" lengthAdjust="spacingAndGlyphs" >7 AAD</text>
<path d="M205,509.4H310" stroke="#1a1a1a" stroke-width="1.3" fill="none" />
<path d="M308.1,506.4L318.8,509.4L308.1,512.4Z" stroke="none" stroke-width="1.0" fill="#1a1a1a" />
<g filter="url(#bl2)">
<path d="M163.20,453.50 C163.73,452.62 164.82,451.88 165.80,451.50 C166.78,451.12 168.12,451.42 169.10,451.20 C170.08,450.98 170.83,450.25 171.70,450.20 C172.57,450.15 173.42,450.68 174.30,450.90 C175.18,451.12 176.02,451.67 177.00,451.50 C177.98,451.33 179.12,449.90 180.20,449.90 C181.28,449.90 182.62,450.90 183.50,451.50 C184.38,452.10 184.95,452.62 185.50,453.50 C186.05,454.38 186.58,455.82 186.80,456.80 C187.02,457.78 187.02,458.43 186.80,459.40 C186.58,460.37 185.28,461.62 185.50,462.60 C185.72,463.58 187.88,464.20 188.10,465.30 C188.32,466.40 187.23,467.90 186.80,469.20 C186.37,470.50 186.17,472.07 185.50,473.10 C184.83,474.13 184.67,474.92 182.80,475.40 C180.93,475.88 177.13,475.95 174.30,476.00 C171.47,476.05 168.08,475.85 165.80,475.70 C163.52,475.55 161.30,475.87 160.60,475.10 C159.90,474.33 161.48,472.63 161.60,471.10 C161.72,469.57 161.25,467.63 161.30,465.90 C161.35,464.17 161.68,462.22 161.90,460.70 C162.12,459.18 162.38,458.00 162.60,456.80 C162.82,455.60 162.67,454.38 163.20,453.50Z" stroke="none" stroke-width="1.0" fill="#2a46a6" />
<path d="M164.74,454.44 C165.08,453.78 165.66,453.42 166.46,453.18 C167.25,452.93 168.62,453.15 169.51,452.95 C170.40,452.76 171.07,452.05 171.79,452.00 C172.52,451.95 172.97,452.43 173.87,452.65 C174.78,452.86 176.16,453.44 177.22,453.29 C178.28,453.13 179.34,451.75 180.21,451.70 C181.08,451.65 181.83,452.50 182.46,452.97 C183.09,453.43 183.57,453.79 183.99,454.49 C184.42,455.18 184.86,456.37 185.03,457.14 C185.20,457.90 185.25,458.09 185.03,459.05 C184.82,460.02 183.51,461.83 183.73,462.94 C183.95,464.05 186.12,464.75 186.34,465.70 C186.57,466.65 185.48,467.56 185.09,468.63 C184.70,469.70 184.50,471.24 184.01,472.09 C183.51,472.94 183.74,473.38 182.12,473.73 C180.50,474.08 176.97,474.17 174.27,474.20 C171.57,474.23 167.97,473.93 165.94,473.91 C163.90,473.88 162.50,474.51 162.08,474.08 C161.66,473.64 163.22,472.62 163.39,471.27 C163.56,469.91 163.05,467.67 163.10,465.95 C163.15,464.23 163.47,462.43 163.68,460.96 C163.89,459.49 164.20,458.21 164.37,457.12 C164.55,456.03 164.39,455.09 164.74,454.44Z" stroke="none" stroke-width="1.0" fill="#3b63c6" />
<ellipse cx="182.80" cy="469.80" rx="1.60" ry="2.20" fill="#4f9fe0"/>
<path d="M165.80,456.80 C166.67,456.15 167.68,455.83 169.10,455.50 C170.52,455.17 173.10,454.48 174.30,454.80 C175.50,455.12 175.75,456.20 176.30,457.40 C176.85,458.60 176.95,460.80 177.60,462.00 C178.25,463.20 179.55,463.40 180.20,464.60 C180.85,465.80 181.60,467.88 181.50,469.20 C181.40,470.52 180.80,471.63 179.60,472.50 C178.40,473.37 176.60,474.08 174.30,474.40 C172.00,474.72 167.75,474.95 165.80,474.40 C163.85,473.85 163.13,472.73 162.60,471.10 C162.07,469.47 162.38,466.55 162.60,464.60 C162.82,462.65 163.37,460.70 163.90,459.40 C164.43,458.10 164.93,457.45 165.80,456.80Z" stroke="none" stroke-width="1.0" fill="#55c3ee" />
<path d="M167.80,458.70 C169.00,457.93 171.20,457.18 172.40,457.40 C173.60,457.62 174.35,458.80 175.00,460.00 C175.65,461.20 175.97,462.97 176.30,464.60 C176.63,466.23 177.22,468.38 177.00,469.80 C176.78,471.22 176.20,472.38 175.00,473.10 C173.80,473.82 171.43,474.10 169.80,474.10 C168.17,474.10 166.18,474.13 165.20,473.10 C164.22,472.07 163.90,469.75 163.90,467.90 C163.90,466.05 164.55,463.53 165.20,462.00 C165.85,460.47 166.60,459.47 167.80,458.70Z" stroke="none" stroke-width="1.0" fill="#84c341" />
<path d="M169.65,461.92 C170.48,461.66 171.36,462.01 172.15,462.76 C172.93,463.51 174.01,464.98 174.37,466.41 C174.74,467.85 174.86,470.02 174.35,471.36 C173.84,472.70 172.48,474.10 171.31,474.47 C170.13,474.84 168.09,474.57 167.29,473.57 C166.48,472.58 166.52,470.04 166.50,468.49 C166.48,466.94 166.65,465.38 167.18,464.28 C167.70,463.19 168.82,462.17 169.65,461.92Z" stroke="none" stroke-width="1.0" fill="#f7931e" />
<path d="M169.80,462.60 C170.45,462.38 171.05,462.63 171.70,463.30 C172.35,463.97 173.37,465.30 173.70,466.60 C174.03,467.90 174.13,469.90 173.70,471.10 C173.27,472.30 172.08,473.47 171.10,473.80 C170.12,474.13 168.45,473.98 167.80,473.10 C167.15,472.22 167.20,469.92 167.20,468.50 C167.20,467.08 167.37,465.58 167.80,464.60 C168.23,463.62 169.15,462.82 169.80,462.60Z" stroke="none" stroke-width="1.0" fill="#f2e52a" />
<path d="M170.40,465.90 C171.05,465.80 171.97,465.95 172.40,466.60 C172.83,467.25 173.12,468.82 173.00,469.80 C172.88,470.78 172.35,472.05 171.70,472.50 C171.05,472.95 169.70,472.95 169.10,472.50 C168.50,472.05 168.20,470.68 168.10,469.80 C168.00,468.92 168.12,467.85 168.50,467.20 C168.88,466.55 169.75,466.00 170.40,465.90Z" stroke="none" stroke-width="1.0" fill="#e8151f" />
</g>
<circle cx="170.30" cy="446.50" r="0.75" fill="#2a46a6"/>
<circle cx="190.80" cy="442.70" r="0.75" fill="#2a46a6"/>
<circle cx="188.30" cy="447.00" r="0.75" fill="#2a46a6"/>
<circle cx="187.70" cy="451.20" r="0.75" fill="#2a46a6"/>
<circle cx="191.00" cy="454.70" r="0.75" fill="#2a46a6"/>
<circle cx="193.40" cy="457.80" r="0.75" fill="#2a46a6"/>
<circle cx="198.80" cy="453.80" r="0.75" fill="#2a46a6"/>
<circle cx="201.00" cy="448.00" r="0.75" fill="#2a46a6"/>
<circle cx="209.80" cy="448.50" r="0.75" fill="#2a46a6"/>
<circle cx="192.30" cy="462.40" r="0.75" fill="#2a46a6"/>
<circle cx="201.50" cy="469.60" r="0.75" fill="#2a46a6"/>
<circle cx="190.50" cy="460.50" r="0.75" fill="#2a46a6"/>
<g filter="url(#bl2)">
<path d="M270.00,452.70 C270.63,451.87 272.52,451.32 273.80,450.80 C275.08,450.28 276.67,449.42 277.70,449.60 C278.73,449.78 279.23,451.00 280.00,451.90 C280.77,452.80 281.53,453.97 282.30,455.00 C283.07,456.03 283.95,457.07 284.60,458.10 C285.25,459.13 286.20,460.30 286.20,461.20 C286.20,462.10 285.38,463.25 284.60,463.50 C283.82,463.75 282.65,463.08 281.50,462.70 C280.35,462.32 278.98,462.10 277.70,461.20 C276.42,460.30 275.08,458.20 273.80,457.30 C272.52,456.40 270.63,456.57 270.00,455.80 C269.37,455.03 269.37,453.53 270.00,452.70Z" stroke="none" stroke-width="1.0" fill="#2a46a6" />
<path d="M270.94,453.28 C271.49,452.72 273.13,452.26 274.21,451.82 C275.29,451.39 276.61,450.53 277.43,450.67 C278.26,450.80 278.50,451.79 279.17,452.62 C279.83,453.45 280.67,454.64 281.42,455.66 C282.17,456.67 283.05,457.77 283.67,458.68 C284.28,459.59 285.01,460.50 285.10,461.13 C285.19,461.76 284.76,462.38 284.22,462.47 C283.67,462.56 282.83,462.02 281.84,461.65 C280.85,461.29 279.54,461.16 278.30,460.28 C277.06,459.40 275.64,457.23 274.40,456.38 C273.17,455.53 271.49,455.70 270.91,455.18 C270.33,454.66 270.39,453.84 270.94,453.28Z" stroke="none" stroke-width="1.0" fill="#55c3ee" />
<path d="M271.96,453.91 C272.42,453.65 273.79,453.28 274.66,452.94 C275.52,452.59 276.55,451.75 277.15,451.83 C277.75,451.91 277.71,452.65 278.26,453.40 C278.81,454.16 279.72,455.38 280.45,456.37 C281.18,457.36 282.07,458.54 282.65,459.32 C283.22,460.10 283.71,460.71 283.90,461.05 C284.10,461.39 284.08,461.43 283.80,461.34 C283.52,461.25 283.02,460.86 282.21,460.51 C281.40,460.17 280.15,460.13 278.96,459.28 C277.77,458.42 276.24,456.17 275.06,455.38 C273.89,454.58 272.42,454.75 271.90,454.51 C271.38,454.26 271.50,454.17 271.96,453.91Z" stroke="none" stroke-width="1.0" fill="#84c341" />
<ellipse cx="279.20" cy="458.30" rx="1.60" ry="2.20" fill="#f2e52a"/>
<path d="M273.80,462.70 C274.95,462.18 276.80,461.52 277.70,461.90 C278.60,462.28 279.07,463.72 279.20,465.00 C279.33,466.28 278.50,468.18 278.50,469.60 C278.50,471.02 279.47,472.47 279.20,473.50 C278.93,474.53 278.18,475.30 276.90,475.80 C275.62,476.30 273.28,476.63 271.50,476.50 C269.72,476.37 267.35,475.77 266.20,475.00 C265.05,474.23 264.48,473.05 264.60,471.90 C264.72,470.75 265.87,469.25 266.90,468.10 C267.93,466.95 269.65,465.90 270.80,465.00 C271.95,464.10 272.65,463.22 273.80,462.70Z" stroke="none" stroke-width="1.0" fill="#2a46a6" />
<path d="M274.22,463.61 C275.19,463.11 276.59,462.54 277.26,462.80 C277.92,463.05 278.17,464.01 278.21,465.15 C278.25,466.29 277.49,468.27 277.50,469.61 C277.51,470.96 278.42,472.32 278.25,473.20 C278.07,474.08 277.57,474.52 276.46,474.90 C275.35,475.29 273.18,475.62 271.57,475.50 C269.97,475.39 267.83,474.82 266.83,474.23 C265.84,473.63 265.46,472.84 265.60,471.93 C265.74,471.02 266.68,469.78 267.65,468.76 C268.62,467.74 270.32,466.65 271.42,465.79 C272.51,464.93 273.24,464.11 274.22,463.61Z" stroke="none" stroke-width="1.0" fill="#55c3ee" />
<path d="M274.55,464.34 C275.38,463.85 276.42,463.36 276.90,463.51 C277.38,463.67 277.45,464.25 277.42,465.27 C277.39,466.29 276.69,468.34 276.70,469.62 C276.71,470.91 277.58,472.20 277.48,472.96 C277.38,473.72 277.08,473.89 276.11,474.18 C275.13,474.48 273.09,474.80 271.63,474.70 C270.17,474.61 268.21,474.06 267.34,473.61 C266.47,473.15 266.25,472.68 266.40,471.96 C266.55,471.24 267.33,470.21 268.25,469.29 C269.17,468.37 270.86,467.24 271.91,466.42 C272.96,465.59 273.71,464.82 274.55,464.34Z" stroke="none" stroke-width="1.0" fill="#84c341" />
<ellipse cx="271.50" cy="472.70" rx="3.50" ry="1.90" fill="#f2e52a"/>
<path d="M291.50,450.00 C292.07,450.13 293.28,452.28 293.80,453.50 C294.32,454.72 294.85,456.28 294.60,457.30 C294.35,458.32 293.07,459.22 292.30,459.60 C291.53,459.98 290.52,460.12 290.00,459.60 C289.48,459.08 289.13,457.65 289.20,456.50 C289.27,455.35 290.02,453.78 290.40,452.70 C290.78,451.62 290.93,449.87 291.50,450.00Z" stroke="none" stroke-width="1.0" fill="#2a46a6" />
<path d="M291.60,451.00 C291.85,451.14 292.54,452.88 292.88,453.88 C293.22,454.89 293.80,456.22 293.64,457.02 C293.48,457.81 292.42,458.38 291.92,458.68 C291.41,458.98 290.90,459.17 290.61,458.81 C290.33,458.45 290.08,457.49 290.20,456.53 C290.32,455.56 291.11,453.96 291.34,453.04 C291.57,452.12 291.34,450.85 291.60,451.00Z" stroke="none" stroke-width="1.0" fill="#55c3ee" />
<ellipse cx="293.80" cy="460.80" rx="3.00" ry="1.30" fill="#2a46a6"/>
<ellipse cx="287.70" cy="461.20" rx="1.20" ry="1.00" fill="#2a46a6"/>
<ellipse cx="280.80" cy="468.10" rx="2.50" ry="1.40" fill="#3b63c6"/>
</g>
<circle cx="281.20" cy="442.00" r="0.85" fill="#2a46a6"/>
<circle cx="269.20" cy="462.70" r="0.85" fill="#2a46a6"/>
<circle cx="258.50" cy="475.00" r="0.85" fill="#2a46a6"/>
<circle cx="288.50" cy="467.30" r="0.85" fill="#2a46a6"/>
<circle cx="284.20" cy="473.80" r="0.85" fill="#2a46a6"/>
<circle cx="291.90" cy="474.20" r="0.85" fill="#2a46a6"/>
<path d="M157.50,486.1V433.2H215.70V461.2H157.50M183.70,433.2V486.1M157.50,486.1H183.70" stroke="#6a6a6a" stroke-width="0.9" fill="none" />
<path d="M256.50,486.1V433.2H314.70V461.2H256.50M281.20,433.2V486.1M256.50,486.1H281.20" stroke="#6a6a6a" stroke-width="0.9" fill="none" />
<rect x="383.10" y="443.50" width="7.90" height="54.60" fill="#e2816f" stroke="none" stroke-width="1.0" />
<rect x="395.00" y="471.00" width="8.10" height="27.10" fill="#8292bb" stroke="none" stroke-width="1.0" />
<rect x="415.25" y="477.25" width="8.25" height="20.85" fill="#e2816f" stroke="none" stroke-width="1.0" />
<rect x="427.25" y="484.40" width="8.00" height="13.70" fill="#8292bb" stroke="none" stroke-width="1.0" />
<rect x="447.50" y="491.00" width="8.10" height="7.10" fill="#e2816f" stroke="none" stroke-width="1.0" />
<rect x="460.00" y="481.00" width="8.10" height="17.10" fill="#8292bb" stroke="none" stroke-width="1.0" />
<line x1="378.50" y1="414.60" x2="378.50" y2="498.70" stroke="#2b2b2b" stroke-width="1.2" />
<line x1="378.50" y1="498.10" x2="471.50" y2="498.10" stroke="#2b2b2b" stroke-width="1.2" />
<line x1="375.70" y1="415.00" x2="378.50" y2="415.00" stroke="#2b2b2b" stroke-width="1.0" />
<text x="372.60" y="417.90" font-size="8.0" fill="#2a2a2a" text-anchor="end" >100</text>
<line x1="375.70" y1="456.50" x2="378.50" y2="456.50" stroke="#2b2b2b" stroke-width="1.0" />
<text x="372.60" y="459.40" font-size="8.0" fill="#2a2a2a" text-anchor="end" >50</text>
<line x1="375.70" y1="498.10" x2="378.50" y2="498.10" stroke="#2b2b2b" stroke-width="1.0" />
<text x="372.60" y="501.00" font-size="8.0" fill="#2a2a2a" text-anchor="end" >0</text>
<line x1="392.75" y1="498.10" x2="392.75" y2="501.40" stroke="#2b2b2b" stroke-width="0.9" />
<line x1="425.60" y1="498.10" x2="425.60" y2="501.40" stroke="#2b2b2b" stroke-width="0.9" />
<line x1="457.50" y1="498.10" x2="457.50" y2="501.40" stroke="#2b2b2b" stroke-width="0.9" />
<circle cx="386.75" cy="415.00" r="1.85" fill="#cf1a35"/>
<circle cx="386.75" cy="426.90" r="1.85" fill="#cf1a35"/>
<circle cx="384.40" cy="433.50" r="1.85" fill="#cf1a35"/>
<circle cx="389.40" cy="436.00" r="1.85" fill="#cf1a35"/>
<circle cx="386.75" cy="440.60" r="1.85" fill="#cf1a35"/>
<circle cx="384.40" cy="445.00" r="1.85" fill="#cf1a35"/>
<circle cx="384.40" cy="448.75" r="1.85" fill="#cf1a35"/>
<circle cx="389.40" cy="446.90" r="1.85" fill="#cf1a35"/>
<circle cx="386.75" cy="459.40" r="1.85" fill="#cf1a35"/>
<circle cx="386.75" cy="481.00" r="1.85" fill="#cf1a35"/>
<circle cx="399.00" cy="449.75" r="1.85" fill="#0f4d8c"/>
<circle cx="399.00" cy="458.50" r="1.85" fill="#0f4d8c"/>
<circle cx="399.00" cy="462.50" r="1.85" fill="#0f4d8c"/>
<circle cx="396.50" cy="469.00" r="1.85" fill="#0f4d8c"/>
<circle cx="401.25" cy="470.60" r="1.85" fill="#0f4d8c"/>
<circle cx="396.50" cy="476.50" r="1.85" fill="#0f4d8c"/>
<circle cx="401.25" cy="478.75" r="1.85" fill="#0f4d8c"/>
<circle cx="399.00" cy="498.10" r="1.85" fill="#0f4d8c"/>
<circle cx="419.40" cy="441.00" r="1.85" fill="#cf1a35"/>
<circle cx="419.40" cy="459.00" r="1.85" fill="#cf1a35"/>
<circle cx="416.90" cy="475.60" r="1.85" fill="#cf1a35"/>
<circle cx="421.90" cy="473.50" r="1.85" fill="#cf1a35"/>
<circle cx="416.90" cy="479.40" r="1.85" fill="#cf1a35"/>
<circle cx="416.90" cy="483.10" r="1.85" fill="#cf1a35"/>
<circle cx="421.90" cy="484.40" r="1.85" fill="#cf1a35"/>
<circle cx="416.90" cy="487.75" r="1.85" fill="#cf1a35"/>
<circle cx="421.90" cy="490.60" r="1.85" fill="#cf1a35"/>
<circle cx="419.40" cy="498.10" r="1.85" fill="#cf1a35"/>
<circle cx="431.25" cy="448.10" r="1.85" fill="#0f4d8c"/>
<circle cx="428.75" cy="476.25" r="1.85" fill="#0f4d8c"/>
<circle cx="432.25" cy="477.25" r="1.85" fill="#0f4d8c"/>
<circle cx="430.60" cy="478.50" r="1.85" fill="#0f4d8c"/>
<circle cx="428.00" cy="498.10" r="1.85" fill="#0f4d8c"/>
<circle cx="430.00" cy="498.10" r="1.85" fill="#0f4d8c"/>
<circle cx="432.00" cy="498.10" r="1.85" fill="#0f4d8c"/>
<circle cx="434.00" cy="498.10" r="1.85" fill="#0f4d8c"/>
<circle cx="451.50" cy="479.75" r="1.85" fill="#cf1a35"/>
<circle cx="451.50" cy="485.25" r="1.85" fill="#cf1a35"/>
<circle cx="449.40" cy="490.60" r="1.85" fill="#cf1a35"/>
<circle cx="454.00" cy="491.50" r="1.85" fill="#cf1a35"/>
<circle cx="449.40" cy="494.50" r="1.85" fill="#cf1a35"/>
<circle cx="452.50" cy="495.00" r="1.85" fill="#cf1a35"/>
<circle cx="449.00" cy="498.10" r="1.85" fill="#cf1a35"/>
<circle cx="451.50" cy="498.10" r="1.85" fill="#cf1a35"/>
<circle cx="454.20" cy="498.10" r="1.85" fill="#cf1a35"/>
<circle cx="453.00" cy="493.00" r="1.85" fill="#cf1a35"/>
<circle cx="463.75" cy="456.50" r="1.85" fill="#0f4d8c"/>
<circle cx="462.75" cy="473.10" r="1.85" fill="#0f4d8c"/>
<circle cx="465.00" cy="474.75" r="1.85" fill="#0f4d8c"/>
<circle cx="462.50" cy="482.25" r="1.85" fill="#0f4d8c"/>
<circle cx="465.00" cy="485.00" r="1.85" fill="#0f4d8c"/>
<circle cx="462.50" cy="489.75" r="1.85" fill="#0f4d8c"/>
<circle cx="461.25" cy="492.25" r="1.85" fill="#0f4d8c"/>
<circle cx="466.25" cy="491.50" r="1.85" fill="#0f4d8c"/>
<path d="M386.75,409.40V405.25H399.00V445.00" stroke="#5e5e5e" stroke-width="1.1" fill="none" />
<circle cx="389.75" cy="401.00" r="1.12" fill="#333"/>
<circle cx="393.00" cy="401.00" r="1.12" fill="#333"/>
<circle cx="396.25" cy="401.00" r="1.12" fill="#333"/>
<path d="M419.40,435.60V430.60H431.25V443.10" stroke="#5e5e5e" stroke-width="1.1" fill="none" />
<text x="425.90" y="428.80" font-size="7.3" fill="#2a2a2a" text-anchor="middle" >ns</text>
<path d="M451.50,474.40V443.50H464.00V451.30" stroke="#5e5e5e" stroke-width="1.1" fill="none" />
<text x="458.30" y="441.30" font-size="7.3" fill="#2a2a2a" text-anchor="middle" >ns</text>
<text x="388.0" y="510.6" font-size="8.4" fill="#2a2a2a">G<tspan font-size="5.6" dy="2.2">0</tspan></text>
<text x="420.6" y="510.6" font-size="8.4" fill="#2a2a2a">G<tspan font-size="5.6" dy="2.2">1</tspan></text>
<text x="444.8" y="510.6" font-size="8.4" fill="#2a2a2a">G<tspan font-size="5.6" dy="2.2">2</tspan><tspan dy="-2.2">/S/M</tspan></text>
<circle cx="479.75" cy="420.00" r="2.1" fill="#cf1a35"/>
<circle cx="479.75" cy="430.25" r="2.1" fill="#0f4d8c"/>
<text x="485.60" y="422.80" font-size="7.6" fill="#2a2a2a" textLength="19.40" lengthAdjust="spacingAndGlyphs" >shCtrl</text>
<text x="485.60" y="433.10" font-size="7.6" fill="#2a2a2a" textLength="23.40" lengthAdjust="spacingAndGlyphs" >shSdc2</text>
<text x="355.40" y="456.00" font-size="9.4" fill="#2a2a2a" text-anchor="middle" textLength="73.00" lengthAdjust="spacingAndGlyphs" transform="rotate(-90 355.40 456.00)" >% donor cells in phase</text>
<line x1="45.30" y1="539.60" x2="45.30" y2="629.90" stroke="#2b2b2b" stroke-width="1.2" />
<line x1="45.30" y1="629.40" x2="76.90" y2="629.40" stroke="#2b2b2b" stroke-width="1.2" />
<line x1="42.50" y1="540.00" x2="45.30" y2="540.00" stroke="#2b2b2b" stroke-width="1.0" />
<text x="39.30" y="542.90" font-size="8.3" fill="#2a2a2a" text-anchor="end" >10</text>
<line x1="42.50" y1="569.80" x2="45.30" y2="569.80" stroke="#2b2b2b" stroke-width="1.0" />
<text x="39.30" y="572.70" font-size="8.3" fill="#2a2a2a" text-anchor="end" >1</text>
<line x1="42.50" y1="599.60" x2="45.30" y2="599.60" stroke="#2b2b2b" stroke-width="1.0" />
<text x="39.30" y="602.50" font-size="8.3" fill="#2a2a2a" text-anchor="end" >0.1</text>
<line x1="42.50" y1="629.40" x2="45.30" y2="629.40" stroke="#2b2b2b" stroke-width="1.0" />
<text x="39.30" y="632.30" font-size="8.3" fill="#2a2a2a" text-anchor="end" >0.01</text>
<line x1="45.60" y1="629.40" x2="45.60" y2="632.00" stroke="#2b2b2b" stroke-width="1.0" />
<text x="45.60" y="641.50" font-size="8.3" fill="#2a2a2a" text-anchor="middle" >4</text>
<line x1="56.25" y1="629.40" x2="56.25" y2="632.00" stroke="#2b2b2b" stroke-width="1.0" />
<text x="56.25" y="641.50" font-size="8.3" fill="#2a2a2a" text-anchor="middle" >8</text>
<line x1="66.40" y1="629.40" x2="66.40" y2="632.00" stroke="#2b2b2b" stroke-width="1.0" />
<text x="66.40" y="641.50" font-size="8.3" fill="#2a2a2a" text-anchor="middle" >12</text>
<line x1="76.90" y1="629.40" x2="76.90" y2="632.00" stroke="#2b2b2b" stroke-width="1.0" />
<text x="76.90" y="641.50" font-size="8.3" fill="#2a2a2a" text-anchor="middle" >16</text>
<path d="M45.60,587.50V604.75M43.70,587.50H47.50M43.70,604.75H47.50" stroke="#3a78b0" stroke-width="1.05" fill="none" />
<path d="M56.25,607.75V615.00M54.35,607.75H58.15M54.35,615.00H58.15" stroke="#3a78b0" stroke-width="1.05" fill="none" />
<path d="M66.40,615.60V626.25M64.50,615.60H68.30M64.50,626.25H68.30" stroke="#3a78b0" stroke-width="1.05" fill="none" />
<path d="M76.90,618.50V626.90M75.00,618.50H78.80M75.00,626.90H78.80" stroke="#3a78b0" stroke-width="1.05" fill="none" />
<path d="M45.60,594.00 L56.25,610.60 L66.40,620.60 L76.90,622.25" stroke="#0f4d8c" stroke-width="1.4" fill="none" stroke-linejoin="round"/>
<circle cx="45.60" cy="594.00" r="1.85" fill="#0f4d8c"/>
<circle cx="56.25" cy="610.60" r="1.85" fill="#0f4d8c"/>
<circle cx="66.40" cy="620.60" r="1.85" fill="#0f4d8c"/>
<circle cx="76.90" cy="622.25" r="1.85" fill="#0f4d8c"/>
<path d="M45.60,574.40V588.10M43.70,574.40H47.50M43.70,588.10H47.50" stroke="#d43a50" stroke-width="1.05" fill="none" />
<path d="M56.25,573.10V600.60M54.35,573.10H58.15M54.35,600.60H58.15" stroke="#d43a50" stroke-width="1.05" fill="none" />
<path d="M66.40,572.50V601.25M64.50,572.50H68.30M64.50,601.25H68.30" stroke="#d43a50" stroke-width="1.05" fill="none" />
<path d="M76.90,572.50V590.60M75.00,572.50H78.80M75.00,590.60H78.80" stroke="#d43a50" stroke-width="1.05" fill="none" />
<path d="M45.60,579.75 L56.25,580.40 L66.40,579.80 L76.90,578.75" stroke="#cf1a35" stroke-width="1.4" fill="none" stroke-linejoin="round"/>
<circle cx="45.60" cy="579.75" r="1.85" fill="#cf1a35"/>
<circle cx="56.25" cy="580.40" r="1.85" fill="#cf1a35"/>
<circle cx="66.40" cy="579.80" r="1.85" fill="#cf1a35"/>
<circle cx="76.90" cy="578.75" r="1.85" fill="#cf1a35"/>
<text x="60.40" y="535.30" font-size="9.9" fill="#2a2a2a" textLength="20.60" lengthAdjust="spacingAndGlyphs" >Total</text>
<line x1="50.60" y1="548.10" x2="58.75" y2="548.10" stroke="#cf1a35" stroke-width="1.4" />
<circle cx="54.70" cy="548.10" r="1.6" fill="#cf1a35"/>
<line x1="50.60" y1="556.00" x2="58.75" y2="556.00" stroke="#0f4d8c" stroke-width="1.4" />
<circle cx="54.70" cy="556.00" r="1.6" fill="#0f4d8c"/>
<text x="61.20" y="550.50" font-size="7.9" fill="#2a2a2a" textLength="21.10" lengthAdjust="spacingAndGlyphs" >shCtrl</text>
<text x="61.20" y="558.60" font-size="7.9" fill="#2a2a2a" textLength="25.70" lengthAdjust="spacingAndGlyphs" >shSdc2</text>
<path d="M83.3,578.5H87.75V622.25H83.3" stroke="#555" stroke-width="1.1" fill="none" />
<circle cx="90.60" cy="599.00" r="1.25" fill="#333"/>
<text x="22.10" y="584.90" font-size="9.4" fill="#2a2a2a" text-anchor="middle" textLength="27.00" lengthAdjust="spacingAndGlyphs" transform="rotate(-90 22.10 584.90)" >% donor</text>
<text x="43.90" y="653.10" font-size="9.6" fill="#2a2a2a" textLength="73.60" lengthAdjust="spacingAndGlyphs" >Weeks after transplant</text>
<path d="M128.75,650.4H345" stroke="#1a1a1a" stroke-width="1.15" fill="none" />
<path d="M343.8,647.5L354.6,650.4L343.8,653.3Z" stroke="none" stroke-width="1.0" fill="#1a1a1a" />
<line x1="132.50" y1="539.60" x2="132.50" y2="629.90" stroke="#2b2b2b" stroke-width="1.2" />
<line x1="132.50" y1="629.40" x2="164.40" y2="629.40" stroke="#2b2b2b" stroke-width="1.2" />
<line x1="129.70" y1="540.00" x2="132.50" y2="540.00" stroke="#2b2b2b" stroke-width="1.0" />
<text x="126.50" y="542.90" font-size="8.3" fill="#2a2a2a" text-anchor="end" >10</text>
<line x1="129.70" y1="562.40" x2="132.50" y2="562.40" stroke="#2b2b2b" stroke-width="1.0" />
<text x="126.50" y="565.30" font-size="8.3" fill="#2a2a2a" text-anchor="end" >1</text>
<line x1="129.70" y1="584.90" x2="132.50" y2="584.90" stroke="#2b2b2b" stroke-width="1.0" />
<text x="126.50" y="587.80" font-size="8.3" fill="#2a2a2a" text-anchor="end" >0.1</text>
<line x1="129.70" y1="607.30" x2="132.50" y2="607.30" stroke="#2b2b2b" stroke-width="1.0" />
<text x="126.50" y="610.20" font-size="8.3" fill="#2a2a2a" text-anchor="end" >0.01</text>
<line x1="129.70" y1="629.40" x2="132.50" y2="629.40" stroke="#2b2b2b" stroke-width="1.0" />
<text x="126.50" y="632.30" font-size="8.3" fill="#2a2a2a" text-anchor="end" >0.001</text>
<line x1="133.10" y1="629.40" x2="133.10" y2="632.00" stroke="#2b2b2b" stroke-width="1.0" />
<text x="133.10" y="641.50" font-size="8.3" fill="#2a2a2a" text-anchor="middle" >4</text>
<line x1="143.75" y1="629.40" x2="143.75" y2="632.00" stroke="#2b2b2b" stroke-width="1.0" />
<text x="143.75" y="641.50" font-size="8.3" fill="#2a2a2a" text-anchor="middle" >8</text>
<line x1="154.00" y1="629.40" x2="154.00" y2="632.00" stroke="#2b2b2b" stroke-width="1.0" />
<text x="154.00" y="641.50" font-size="8.3" fill="#2a2a2a" text-anchor="middle" >12</text>
<line x1="164.40" y1="629.40" x2="164.40" y2="632.00" stroke="#2b2b2b" stroke-width="1.0" />
<text x="164.40" y="641.50" font-size="8.3" fill="#2a2a2a" text-anchor="middle" >16</text>
<path d="M133.10,593.00V600.60M131.20,593.00H135.00M131.20,600.60H135.00" stroke="#3a78b0" stroke-width="1.05" fill="none" />
<path d="M143.75,600.60V611.25M141.85,600.60H145.65M141.85,611.25H145.65" stroke="#3a78b0" stroke-width="1.05" fill="none" />
<path d="M154.00,602.50V616.25M152.10,602.50H155.90M152.10,616.25H155.90" stroke="#3a78b0" stroke-width="1.05" fill="none" />
<path d="M164.40,601.90V622.50M162.50,601.90H166.30M162.50,622.50H166.30" stroke="#3a78b0" stroke-width="1.05" fill="none" />
<path d="M133.10,596.25 L143.75,604.40 L154.00,606.90 L164.40,607.75" stroke="#0f4d8c" stroke-width="1.4" fill="none" stroke-linejoin="round"/>
<circle cx="133.10" cy="596.25" r="1.85" fill="#0f4d8c"/>
<circle cx="143.75" cy="604.40" r="1.85" fill="#0f4d8c"/>
<circle cx="154.00" cy="606.90" r="1.85" fill="#0f4d8c"/>
<circle cx="164.40" cy="607.75" r="1.85" fill="#0f4d8c"/>
<path d="M133.10,573.50V593.50M131.20,573.50H135.00M131.20,593.50H135.00" stroke="#d43a50" stroke-width="1.05" fill="none" />
<path d="M143.75,567.50V596.50M141.85,567.50H145.65M141.85,596.50H145.65" stroke="#d43a50" stroke-width="1.05" fill="none" />
<path d="M154.00,565.25V603.50M152.10,565.25H155.90M152.10,603.50H155.90" stroke="#d43a50" stroke-width="1.05" fill="none" />
<path d="M164.40,564.40V596.50M162.50,564.40H166.30M162.50,596.50H166.30" stroke="#d43a50" stroke-width="1.05" fill="none" />
<path d="M133.10,578.50 L143.75,573.75 L154.00,571.90 L164.40,570.60" stroke="#cf1a35" stroke-width="1.4" fill="none" stroke-linejoin="round"/>
<circle cx="133.10" cy="578.50" r="1.85" fill="#cf1a35"/>
<circle cx="143.75" cy="573.75" r="1.85" fill="#cf1a35"/>
<circle cx="154.00" cy="571.90" r="1.85" fill="#cf1a35"/>
<circle cx="164.40" cy="570.60" r="1.85" fill="#cf1a35"/>
<text x="138.70" y="535.60" font-size="9.9" fill="#2a2a2a" textLength="26.90" lengthAdjust="spacingAndGlyphs" >B cells</text>
<path d="M168.1,569.75H171.25V607.75H168.1" stroke="#555" stroke-width="1.1" fill="none" />
<text x="178.40" y="586.00" font-size="8.2" fill="#2a2a2a" textLength="12.40" lengthAdjust="spacingAndGlyphs" >n.s.</text>
<text x="174.20" y="595.30" font-size="8.4" fill="#2a2a2a" textLength="20.90" lengthAdjust="spacingAndGlyphs" >p=.06</text>
<line x1="235.00" y1="539.60" x2="235.00" y2="629.90" stroke="#2b2b2b" stroke-width="1.2" />
<line x1="235.00" y1="629.40" x2="266.90" y2="629.40" stroke="#2b2b2b" stroke-width="1.2" />
<line x1="232.20" y1="540.00" x2="235.00" y2="540.00" stroke="#2b2b2b" stroke-width="1.0" />
<text x="229.00" y="542.90" font-size="8.3" fill="#2a2a2a" text-anchor="end" >10</text>
<line x1="232.20" y1="562.50" x2="235.00" y2="562.50" stroke="#2b2b2b" stroke-width="1.0" />
<text x="229.00" y="565.40" font-size="8.3" fill="#2a2a2a" text-anchor="end" >1</text>
<line x1="232.20" y1="585.00" x2="235.00" y2="585.00" stroke="#2b2b2b" stroke-width="1.0" />
<text x="229.00" y="587.90" font-size="8.3" fill="#2a2a2a" text-anchor="end" >0.1</text>
<line x1="232.20" y1="607.40" x2="235.00" y2="607.40" stroke="#2b2b2b" stroke-width="1.0" />
<text x="229.00" y="610.30" font-size="8.3" fill="#2a2a2a" text-anchor="end" >0.01</text>
<line x1="232.20" y1="629.40" x2="235.00" y2="629.40" stroke="#2b2b2b" stroke-width="1.0" />
<text x="229.00" y="632.30" font-size="8.3" fill="#2a2a2a" text-anchor="end" >0.001</text>
<line x1="235.25" y1="629.40" x2="235.25" y2="632.00" stroke="#2b2b2b" stroke-width="1.0" />
<text x="235.25" y="641.50" font-size="8.3" fill="#2a2a2a" text-anchor="middle" >4</text>
<line x1="246.00" y1="629.40" x2="246.00" y2="632.00" stroke="#2b2b2b" stroke-width="1.0" />
<text x="246.00" y="641.50" font-size="8.3" fill="#2a2a2a" text-anchor="middle" >8</text>
<line x1="256.50" y1="629.40" x2="256.50" y2="632.00" stroke="#2b2b2b" stroke-width="1.0" />
<text x="256.50" y="641.50" font-size="8.3" fill="#2a2a2a" text-anchor="middle" >12</text>
<line x1="266.90" y1="629.40" x2="266.90" y2="632.00" stroke="#2b2b2b" stroke-width="1.0" />
<text x="266.90" y="641.50" font-size="8.3" fill="#2a2a2a" text-anchor="middle" >16</text>
<path d="M235.25,575.50V585.00M233.35,575.50H237.15M233.35,585.00H237.15" stroke="#3a78b0" stroke-width="1.05" fill="none" />
<path d="M246.00,579.50V586.50M244.10,579.50H247.90M244.10,586.50H247.90" stroke="#3a78b0" stroke-width="1.05" fill="none" />
<path d="M256.50,593.75V601.25M254.60,593.75H258.40M254.60,601.25H258.40" stroke="#3a78b0" stroke-width="1.05" fill="none" />
<path d="M266.90,592.50V604.40M265.00,592.50H268.80M265.00,604.40H268.80" stroke="#3a78b0" stroke-width="1.05" fill="none" />
<path d="M235.25,579.75 L246.00,582.50 L256.50,596.90 L266.90,596.90" stroke="#0f4d8c" stroke-width="1.4" fill="none" stroke-linejoin="round"/>
<circle cx="235.25" cy="579.75" r="1.85" fill="#0f4d8c"/>
<circle cx="246.00" cy="582.50" r="1.85" fill="#0f4d8c"/>
<circle cx="256.50" cy="596.90" r="1.85" fill="#0f4d8c"/>
<circle cx="266.90" cy="596.90" r="1.85" fill="#0f4d8c"/>
<path d="M235.25,564.40V574.40M233.35,564.40H237.15M233.35,574.40H237.15" stroke="#d43a50" stroke-width="1.05" fill="none" />
<path d="M246.00,560.60V578.75M244.10,560.60H247.90M244.10,578.75H247.90" stroke="#d43a50" stroke-width="1.05" fill="none" />
<path d="M256.50,563.50V581.50M254.60,563.50H258.40M254.60,581.50H258.40" stroke="#d43a50" stroke-width="1.05" fill="none" />
<path d="M266.90,566.50V577.75M265.00,566.50H268.80M265.00,577.75H268.80" stroke="#d43a50" stroke-width="1.05" fill="none" />
<path d="M235.25,569.40 L246.00,566.00 L256.50,568.75 L266.90,570.60" stroke="#cf1a35" stroke-width="1.4" fill="none" stroke-linejoin="round"/>
<circle cx="235.25" cy="569.40" r="1.85" fill="#cf1a35"/>
<circle cx="246.00" cy="566.00" r="1.85" fill="#cf1a35"/>
<circle cx="256.50" cy="568.75" r="1.85" fill="#cf1a35"/>
<circle cx="266.90" cy="570.60" r="1.85" fill="#cf1a35"/>
<text x="246.50" y="535.60" font-size="9.9" fill="#2a2a2a" textLength="26.00" lengthAdjust="spacingAndGlyphs" >T cells</text>
<path d="M271.9,569.75H275.6V596.25H271.9" stroke="#555" stroke-width="1.1" fill="none" />
<circle cx="278.60" cy="581.80" r="1.25" fill="#333"/>
<line x1="320.30" y1="539.60" x2="320.30" y2="629.90" stroke="#2b2b2b" stroke-width="1.2" />
<line x1="320.30" y1="629.40" x2="352.50" y2="629.40" stroke="#2b2b2b" stroke-width="1.2" />
<line x1="317.50" y1="540.00" x2="320.30" y2="540.00" stroke="#2b2b2b" stroke-width="1.0" />
<text x="314.30" y="542.90" font-size="8.3" fill="#2a2a2a" text-anchor="end" >10</text>
<line x1="317.50" y1="562.50" x2="320.30" y2="562.50" stroke="#2b2b2b" stroke-width="1.0" />
<text x="314.30" y="565.40" font-size="8.3" fill="#2a2a2a" text-anchor="end" >1</text>
<line x1="317.50" y1="585.00" x2="320.30" y2="585.00" stroke="#2b2b2b" stroke-width="1.0" />
<text x="314.30" y="587.90" font-size="8.3" fill="#2a2a2a" text-anchor="end" >0.1</text>
<line x1="317.50" y1="607.40" x2="320.30" y2="607.40" stroke="#2b2b2b" stroke-width="1.0" />
<text x="314.30" y="610.30" font-size="8.3" fill="#2a2a2a" text-anchor="end" >0.01</text>
<line x1="317.50" y1="629.40" x2="320.30" y2="629.40" stroke="#2b2b2b" stroke-width="1.0" />
<text x="314.30" y="632.30" font-size="8.3" fill="#2a2a2a" text-anchor="end" >0.001</text>
<line x1="321.25" y1="629.40" x2="321.25" y2="632.00" stroke="#2b2b2b" stroke-width="1.0" />
<text x="321.25" y="641.50" font-size="8.3" fill="#2a2a2a" text-anchor="middle" >4</text>
<line x1="331.90" y1="629.40" x2="331.90" y2="632.00" stroke="#2b2b2b" stroke-width="1.0" />
<text x="331.90" y="641.50" font-size="8.3" fill="#2a2a2a" text-anchor="middle" >8</text>
<line x1="342.50" y1="629.40" x2="342.50" y2="632.00" stroke="#2b2b2b" stroke-width="1.0" />
<text x="342.50" y="641.50" font-size="8.3" fill="#2a2a2a" text-anchor="middle" >12</text>
<line x1="352.50" y1="629.40" x2="352.50" y2="632.00" stroke="#2b2b2b" stroke-width="1.0" />
<text x="352.50" y="641.50" font-size="8.3" fill="#2a2a2a" text-anchor="middle" >16</text>
<path d="M321.25,563.75V577.75M319.35,563.75H323.15M319.35,577.75H323.15" stroke="#3a78b0" stroke-width="1.05" fill="none" />
<path d="M331.90,570.60V576.25M330.00,570.60H333.80M330.00,576.25H333.80" stroke="#3a78b0" stroke-width="1.05" fill="none" />
<path d="M342.50,579.75V588.00M340.60,579.75H344.40M340.60,588.00H344.40" stroke="#3a78b0" stroke-width="1.05" fill="none" />
<path d="M352.50,577.50V583.75M350.60,577.50H354.40M350.60,583.75H354.40" stroke="#3a78b0" stroke-width="1.05" fill="none" />
<path d="M321.25,569.40 L331.90,573.10 L342.50,583.10 L352.50,580.60" stroke="#0f4d8c" stroke-width="1.4" fill="none" stroke-linejoin="round"/>
<circle cx="321.25" cy="569.40" r="1.85" fill="#0f4d8c"/>
<circle cx="331.90" cy="573.10" r="1.85" fill="#0f4d8c"/>
<circle cx="342.50" cy="583.10" r="1.85" fill="#0f4d8c"/>
<circle cx="352.50" cy="580.60" r="1.85" fill="#0f4d8c"/>
<path d="M321.25,557.25V563.10M319.35,557.25H323.15M319.35,563.10H323.15" stroke="#d43a50" stroke-width="1.05" fill="none" />
<path d="M331.90,558.50V567.25M330.00,558.50H333.80M330.00,567.25H333.80" stroke="#d43a50" stroke-width="1.05" fill="none" />
<path d="M342.50,557.25V570.00M340.60,557.25H344.40M340.60,570.00H344.40" stroke="#d43a50" stroke-width="1.05" fill="none" />
<path d="M352.50,557.50V568.10M350.60,557.50H354.40M350.60,568.10H354.40" stroke="#d43a50" stroke-width="1.05" fill="none" />
<path d="M321.25,559.75 L331.90,562.25 L342.50,561.90 L352.50,561.50" stroke="#cf1a35" stroke-width="1.4" fill="none" stroke-linejoin="round"/>
<circle cx="321.25" cy="559.75" r="1.85" fill="#cf1a35"/>
<circle cx="331.90" cy="562.25" r="1.85" fill="#cf1a35"/>
<circle cx="342.50" cy="561.90" r="1.85" fill="#cf1a35"/>
<circle cx="352.50" cy="561.50" r="1.85" fill="#cf1a35"/>
<text x="328.70" y="535.60" font-size="9.9" fill="#2a2a2a" textLength="33.80" lengthAdjust="spacingAndGlyphs" >Myeloid</text>
<path d="M357.4,562.1H361.6V579.4H357.4" stroke="#555" stroke-width="1.1" fill="none" />
<circle cx="364.40" cy="570.00" r="1.2" fill="#333"/>
<circle cx="368.00" cy="570.00" r="1.2" fill="#333"/>
</svg></body></html>
